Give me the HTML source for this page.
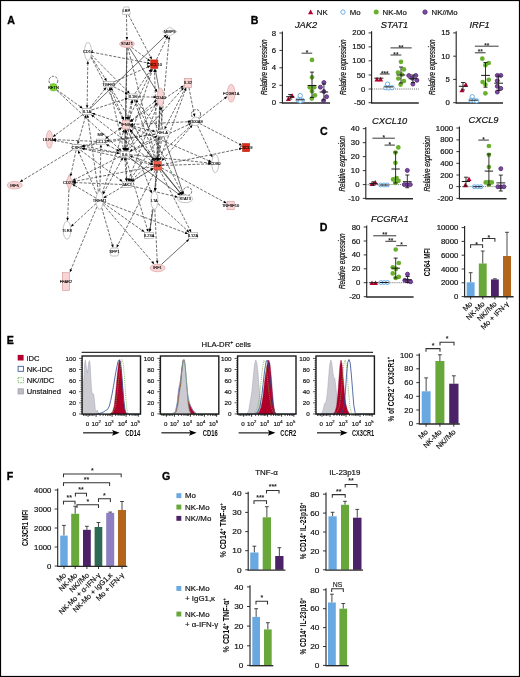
<!DOCTYPE html>
<html lang="en">
<head>
<meta charset="utf-8">
<title>Figure: NK cell and monocyte crosstalk</title>
<style>
html,body{margin:0;padding:0;background:#fff;}
body{width:520px;height:677px;overflow:hidden;}
svg{display:block;font-family:'Liberation Sans', sans-serif;}
</style>
</head>
<body>
<svg width="520" height="677" viewBox="0 0 520 677">
<defs><filter id="soft" x="0" y="0" width="520" height="677" filterUnits="userSpaceOnUse"><feGaussianBlur stdDeviation="0.42"/></filter></defs>
<rect x="0" y="0" width="520" height="677" fill="#ffffff"/>
<g filter="url(#soft)">
<text x="0.00" y="0.00" font-size="11.8" font-weight="bold" fill="#000" transform="translate(250.80 23.50) scale(0.9 1)" stroke="#000" stroke-width="0.35">B</text>
<path d="M310.60 9.40 L313.20 14.21 L308.00 14.21 Z" fill="#b4002d" stroke="none" stroke-width="1"/>
<text x="316.80" y="14.60" font-size="7.8" fill="#0c0c0c" stroke="#0c0c0c" stroke-width="0.16">NK</text>
<circle cx="343.00" cy="12.10" r="2.2" fill="#fff" stroke="#5fa5e0" stroke-width="0.9"/>
<text x="349.80" y="14.60" font-size="7.8" fill="#0c0c0c" stroke="#0c0c0c" stroke-width="0.16">Mo</text>
<circle cx="376.20" cy="12.10" r="2.5" fill="#6aaf2d" stroke="none" stroke-width="1"/>
<text x="382.60" y="14.60" font-size="7.8" fill="#0c0c0c" stroke="#0c0c0c" stroke-width="0.16">NK-Mo</text>
<circle cx="425.00" cy="12.10" r="2.2" fill="#7d4a9c" stroke="#4d2372" stroke-width="0.8"/>
<text x="431.60" y="14.60" font-size="7.8" fill="#0c0c0c" stroke="#0c0c0c" stroke-width="0.16">NK//Mo</text>
<text x="0.00" y="0.00" font-size="8.8" text-anchor="middle" font-style="italic" fill="#0c0c0c" transform="translate(306.00 28.00) scale(1.06 1)" stroke="#0c0c0c" stroke-width="0.16">JAK2</text>
<line x1="282.40" y1="31.40" x2="282.40" y2="103.20" stroke="#1f1f1f" stroke-width="1.1" stroke-linecap="butt"/>
<line x1="279.40" y1="33.00" x2="282.40" y2="33.00" stroke="#1f1f1f" stroke-width="0.9" stroke-linecap="butt"/>
<text x="0.00" y="0.00" font-size="7.2" text-anchor="end" fill="#0c0c0c" transform="translate(276.10 35.56) scale(1.08 1)" stroke="#0c0c0c" stroke-width="0.16">8</text>
<line x1="279.40" y1="50.40" x2="282.40" y2="50.40" stroke="#1f1f1f" stroke-width="0.9" stroke-linecap="butt"/>
<text x="0.00" y="0.00" font-size="7.2" text-anchor="end" fill="#0c0c0c" transform="translate(276.10 52.96) scale(1.08 1)" stroke="#0c0c0c" stroke-width="0.16">6</text>
<line x1="279.40" y1="67.80" x2="282.40" y2="67.80" stroke="#1f1f1f" stroke-width="0.9" stroke-linecap="butt"/>
<text x="0.00" y="0.00" font-size="7.2" text-anchor="end" fill="#0c0c0c" transform="translate(276.10 70.36) scale(1.08 1)" stroke="#0c0c0c" stroke-width="0.16">4</text>
<line x1="279.40" y1="85.30" x2="282.40" y2="85.30" stroke="#1f1f1f" stroke-width="0.9" stroke-linecap="butt"/>
<text x="0.00" y="0.00" font-size="7.2" text-anchor="end" fill="#0c0c0c" transform="translate(276.10 87.86) scale(1.08 1)" stroke="#0c0c0c" stroke-width="0.16">2</text>
<line x1="279.40" y1="102.70" x2="282.40" y2="102.70" stroke="#1f1f1f" stroke-width="0.9" stroke-linecap="butt"/>
<text x="0.00" y="0.00" font-size="7.2" text-anchor="end" fill="#0c0c0c" transform="translate(276.10 105.26) scale(1.08 1)" stroke="#0c0c0c" stroke-width="0.16">0</text>
<line x1="281.85" y1="103.00" x2="330.00" y2="103.00" stroke="#2a2a2a" stroke-width="1.35" stroke-linecap="butt"/>
<text x="0.00" y="0.00" font-size="8.3" text-anchor="middle" font-style="italic" fill="#0c0c0c" transform="translate(267.00 67.20) rotate(-90) scale(0.77 1)" stroke="#0c0c0c" stroke-width="0.22">Relative expression</text>
<path d="M288.40 96.30 L290.90 100.92 L285.90 100.92 Z" fill="#b4002d" stroke="none" stroke-width="1"/>
<path d="M292.20 93.30 L294.70 97.92 L289.70 97.92 Z" fill="#b4002d" stroke="none" stroke-width="1"/>
<line x1="290.20" y1="94.50" x2="290.20" y2="99.00" stroke="#1c1c1c" stroke-width="0.9" stroke-linecap="butt"/>
<line x1="288.20" y1="94.50" x2="292.20" y2="94.50" stroke="#1c1c1c" stroke-width="0.9" stroke-linecap="butt"/>
<line x1="288.20" y1="99.00" x2="292.20" y2="99.00" stroke="#1c1c1c" stroke-width="0.9" stroke-linecap="butt"/>
<line x1="286.20" y1="96.70" x2="294.20" y2="96.70" stroke="#1c1c1c" stroke-width="1.0" stroke-linecap="butt"/>
<circle cx="300.20" cy="95.60" r="2.15" fill="#fff" stroke="#5fa5e0" stroke-width="0.9"/>
<circle cx="298.00" cy="100.00" r="2.15" fill="#fff" stroke="#5fa5e0" stroke-width="0.9"/>
<circle cx="302.30" cy="100.30" r="2.15" fill="#fff" stroke="#5fa5e0" stroke-width="0.9"/>
<circle cx="300.20" cy="101.00" r="2.15" fill="#fff" stroke="#5fa5e0" stroke-width="0.9"/>
<line x1="296.00" y1="99.80" x2="304.40" y2="99.80" stroke="#1c1c1c" stroke-width="1.0" stroke-linecap="butt"/>
<circle cx="312.00" cy="59.90" r="2.35" fill="#6aaf2d" stroke="none" stroke-width="1"/>
<circle cx="312.00" cy="77.30" r="2.35" fill="#6aaf2d" stroke="none" stroke-width="1"/>
<circle cx="309.70" cy="87.20" r="2.35" fill="#6aaf2d" stroke="none" stroke-width="1"/>
<circle cx="314.20" cy="87.20" r="2.35" fill="#6aaf2d" stroke="none" stroke-width="1"/>
<circle cx="312.00" cy="91.20" r="2.35" fill="#6aaf2d" stroke="none" stroke-width="1"/>
<circle cx="314.90" cy="95.30" r="2.35" fill="#6aaf2d" stroke="none" stroke-width="1"/>
<circle cx="311.80" cy="98.60" r="2.35" fill="#6aaf2d" stroke="none" stroke-width="1"/>
<line x1="312.00" y1="72.10" x2="312.00" y2="97.50" stroke="#1c1c1c" stroke-width="0.9" stroke-linecap="butt"/>
<line x1="310.00" y1="72.10" x2="314.00" y2="72.10" stroke="#1c1c1c" stroke-width="0.9" stroke-linecap="butt"/>
<line x1="310.00" y1="97.50" x2="314.00" y2="97.50" stroke="#1c1c1c" stroke-width="0.9" stroke-linecap="butt"/>
<line x1="307.60" y1="85.50" x2="316.40" y2="85.50" stroke="#1c1c1c" stroke-width="1.0" stroke-linecap="butt"/>
<circle cx="323.90" cy="82.50" r="2.0" fill="#7d4a9c" stroke="#4d2372" stroke-width="0.8"/>
<circle cx="320.40" cy="87.20" r="2.0" fill="#7d4a9c" stroke="#4d2372" stroke-width="0.8"/>
<circle cx="323.90" cy="91.50" r="2.0" fill="#7d4a9c" stroke="#4d2372" stroke-width="0.8"/>
<circle cx="326.60" cy="96.70" r="2.0" fill="#7d4a9c" stroke="#4d2372" stroke-width="0.8"/>
<circle cx="323.50" cy="100.70" r="2.0" fill="#7d4a9c" stroke="#4d2372" stroke-width="0.8"/>
<line x1="323.90" y1="84.00" x2="323.90" y2="100.00" stroke="#1c1c1c" stroke-width="0.9" stroke-linecap="butt"/>
<line x1="321.90" y1="84.00" x2="325.90" y2="84.00" stroke="#1c1c1c" stroke-width="0.9" stroke-linecap="butt"/>
<line x1="321.90" y1="100.00" x2="325.90" y2="100.00" stroke="#1c1c1c" stroke-width="0.9" stroke-linecap="butt"/>
<line x1="319.70" y1="92.00" x2="328.10" y2="92.00" stroke="#1c1c1c" stroke-width="1.0" stroke-linecap="butt"/>
<line x1="301.60" y1="53.20" x2="312.20" y2="53.20" stroke="#222" stroke-width="0.9" stroke-linecap="butt"/>
<text x="306.90" y="54.80" font-size="6.5" text-anchor="middle" font-weight="bold" fill="#222">*</text>
<text x="0.00" y="0.00" font-size="8.8" text-anchor="middle" font-style="italic" fill="#0c0c0c" transform="translate(394.50 28.00) scale(1.06 1)" stroke="#0c0c0c" stroke-width="0.16">STAT1</text>
<line x1="371.60" y1="31.30" x2="371.60" y2="103.20" stroke="#1f1f1f" stroke-width="1.1" stroke-linecap="butt"/>
<line x1="368.60" y1="32.90" x2="371.60" y2="32.90" stroke="#1f1f1f" stroke-width="0.9" stroke-linecap="butt"/>
<text x="0.00" y="0.00" font-size="7.2" text-anchor="end" fill="#0c0c0c" transform="translate(365.30 35.46) scale(1.08 1)" stroke="#0c0c0c" stroke-width="0.16">200</text>
<line x1="368.60" y1="46.90" x2="371.60" y2="46.90" stroke="#1f1f1f" stroke-width="0.9" stroke-linecap="butt"/>
<text x="0.00" y="0.00" font-size="7.2" text-anchor="end" fill="#0c0c0c" transform="translate(365.30 49.46) scale(1.08 1)" stroke="#0c0c0c" stroke-width="0.16">150</text>
<line x1="368.60" y1="60.80" x2="371.60" y2="60.80" stroke="#1f1f1f" stroke-width="0.9" stroke-linecap="butt"/>
<text x="0.00" y="0.00" font-size="7.2" text-anchor="end" fill="#0c0c0c" transform="translate(365.30 63.36) scale(1.08 1)" stroke="#0c0c0c" stroke-width="0.16">100</text>
<line x1="368.60" y1="75.00" x2="371.60" y2="75.00" stroke="#1f1f1f" stroke-width="0.9" stroke-linecap="butt"/>
<text x="0.00" y="0.00" font-size="7.2" text-anchor="end" fill="#0c0c0c" transform="translate(365.30 77.56) scale(1.08 1)" stroke="#0c0c0c" stroke-width="0.16">50</text>
<line x1="368.60" y1="89.00" x2="371.60" y2="89.00" stroke="#1f1f1f" stroke-width="0.9" stroke-linecap="butt"/>
<text x="0.00" y="0.00" font-size="7.2" text-anchor="end" fill="#0c0c0c" transform="translate(365.30 91.56) scale(1.08 1)" stroke="#0c0c0c" stroke-width="0.16">0</text>
<line x1="368.60" y1="102.70" x2="371.60" y2="102.70" stroke="#1f1f1f" stroke-width="0.9" stroke-linecap="butt"/>
<text x="0.00" y="0.00" font-size="7.2" text-anchor="end" fill="#0c0c0c" transform="translate(365.30 105.26) scale(1.08 1)" stroke="#0c0c0c" stroke-width="0.16">-50</text>
<line x1="371.05" y1="103.00" x2="418.80" y2="103.00" stroke="#2a2a2a" stroke-width="1.35" stroke-linecap="butt"/>
<text x="0.00" y="0.00" font-size="8.3" text-anchor="middle" font-style="italic" fill="#0c0c0c" transform="translate(346.00 67.20) rotate(-90) scale(0.77 1)" stroke="#0c0c0c" stroke-width="0.22">Relative expression</text>
<line x1="372.00" y1="89.00" x2="419.00" y2="89.00" stroke="#555" stroke-width="0.9" stroke-dasharray="1 1.1" stroke-linecap="butt"/>
<path d="M377.00 76.80 L379.50 81.42 L374.50 81.42 Z" fill="#b4002d" stroke="none" stroke-width="1"/>
<path d="M380.60 76.80 L383.10 81.42 L378.10 81.42 Z" fill="#b4002d" stroke="none" stroke-width="1"/>
<line x1="374.30" y1="78.20" x2="383.30" y2="78.20" stroke="#1c1c1c" stroke-width="1.0" stroke-linecap="butt"/>
<circle cx="387.60" cy="84.10" r="2.15" fill="#fff" stroke="#5fa5e0" stroke-width="0.9"/>
<circle cx="385.70" cy="87.70" r="2.15" fill="#fff" stroke="#5fa5e0" stroke-width="0.9"/>
<circle cx="388.80" cy="87.90" r="2.15" fill="#fff" stroke="#5fa5e0" stroke-width="0.9"/>
<circle cx="392.00" cy="87.70" r="2.15" fill="#fff" stroke="#5fa5e0" stroke-width="0.9"/>
<line x1="384.30" y1="86.90" x2="393.30" y2="86.90" stroke="#1c1c1c" stroke-width="1.0" stroke-linecap="butt"/>
<circle cx="401.00" cy="61.80" r="2.35" fill="#6aaf2d" stroke="none" stroke-width="1"/>
<circle cx="403.90" cy="69.40" r="2.35" fill="#6aaf2d" stroke="none" stroke-width="1"/>
<circle cx="398.00" cy="72.50" r="2.35" fill="#6aaf2d" stroke="none" stroke-width="1"/>
<circle cx="401.80" cy="74.60" r="2.35" fill="#6aaf2d" stroke="none" stroke-width="1"/>
<circle cx="398.30" cy="78.50" r="2.35" fill="#6aaf2d" stroke="none" stroke-width="1"/>
<circle cx="403.90" cy="81.10" r="2.35" fill="#6aaf2d" stroke="none" stroke-width="1"/>
<circle cx="400.60" cy="84.60" r="2.35" fill="#6aaf2d" stroke="none" stroke-width="1"/>
<line x1="401.00" y1="67.00" x2="401.00" y2="83.00" stroke="#1c1c1c" stroke-width="0.9" stroke-linecap="butt"/>
<line x1="399.00" y1="67.00" x2="403.00" y2="67.00" stroke="#1c1c1c" stroke-width="0.9" stroke-linecap="butt"/>
<line x1="399.00" y1="83.00" x2="403.00" y2="83.00" stroke="#1c1c1c" stroke-width="0.9" stroke-linecap="butt"/>
<line x1="396.60" y1="75.00" x2="405.40" y2="75.00" stroke="#1c1c1c" stroke-width="1.0" stroke-linecap="butt"/>
<circle cx="408.80" cy="75.50" r="2.0" fill="#7d4a9c" stroke="#4d2372" stroke-width="0.8"/>
<circle cx="415.80" cy="75.50" r="2.0" fill="#7d4a9c" stroke="#4d2372" stroke-width="0.8"/>
<circle cx="412.30" cy="78.20" r="2.0" fill="#7d4a9c" stroke="#4d2372" stroke-width="0.8"/>
<circle cx="416.90" cy="80.30" r="2.0" fill="#7d4a9c" stroke="#4d2372" stroke-width="0.8"/>
<circle cx="412.90" cy="84.10" r="2.0" fill="#7d4a9c" stroke="#4d2372" stroke-width="0.8"/>
<line x1="413.00" y1="75.00" x2="413.00" y2="82.50" stroke="#1c1c1c" stroke-width="0.9" stroke-linecap="butt"/>
<line x1="411.00" y1="75.00" x2="415.00" y2="75.00" stroke="#1c1c1c" stroke-width="0.9" stroke-linecap="butt"/>
<line x1="411.00" y1="82.50" x2="415.00" y2="82.50" stroke="#1c1c1c" stroke-width="0.9" stroke-linecap="butt"/>
<line x1="408.60" y1="78.70" x2="417.40" y2="78.70" stroke="#1c1c1c" stroke-width="1.0" stroke-linecap="butt"/>
<line x1="379.80" y1="74.00" x2="389.70" y2="74.00" stroke="#222" stroke-width="0.9" stroke-linecap="butt"/>
<text x="384.75" y="75.60" font-size="6.5" text-anchor="middle" font-weight="bold" fill="#222">***</text>
<line x1="390.50" y1="55.00" x2="401.30" y2="55.00" stroke="#222" stroke-width="0.9" stroke-linecap="butt"/>
<text x="395.90" y="56.60" font-size="6.5" text-anchor="middle" font-weight="bold" fill="#222">**</text>
<line x1="390.50" y1="47.90" x2="411.70" y2="47.90" stroke="#222" stroke-width="0.9" stroke-linecap="butt"/>
<text x="401.10" y="49.50" font-size="6.5" text-anchor="middle" font-weight="bold" fill="#222">**</text>
<text x="0.00" y="0.00" font-size="8.8" text-anchor="middle" font-style="italic" fill="#0c0c0c" transform="translate(479.50 28.00) scale(1.06 1)" stroke="#0c0c0c" stroke-width="0.16">IRF1</text>
<line x1="456.20" y1="31.30" x2="456.20" y2="103.20" stroke="#1f1f1f" stroke-width="1.1" stroke-linecap="butt"/>
<line x1="453.20" y1="32.90" x2="456.20" y2="32.90" stroke="#1f1f1f" stroke-width="0.9" stroke-linecap="butt"/>
<text x="0.00" y="0.00" font-size="7.2" text-anchor="end" fill="#0c0c0c" transform="translate(449.90 35.46) scale(1.08 1)" stroke="#0c0c0c" stroke-width="0.16">15</text>
<line x1="453.20" y1="56.20" x2="456.20" y2="56.20" stroke="#1f1f1f" stroke-width="0.9" stroke-linecap="butt"/>
<text x="0.00" y="0.00" font-size="7.2" text-anchor="end" fill="#0c0c0c" transform="translate(449.90 58.76) scale(1.08 1)" stroke="#0c0c0c" stroke-width="0.16">10</text>
<line x1="453.20" y1="79.40" x2="456.20" y2="79.40" stroke="#1f1f1f" stroke-width="0.9" stroke-linecap="butt"/>
<text x="0.00" y="0.00" font-size="7.2" text-anchor="end" fill="#0c0c0c" transform="translate(449.90 81.96) scale(1.08 1)" stroke="#0c0c0c" stroke-width="0.16">5</text>
<line x1="453.20" y1="102.70" x2="456.20" y2="102.70" stroke="#1f1f1f" stroke-width="0.9" stroke-linecap="butt"/>
<text x="0.00" y="0.00" font-size="7.2" text-anchor="end" fill="#0c0c0c" transform="translate(449.90 105.26) scale(1.08 1)" stroke="#0c0c0c" stroke-width="0.16">0</text>
<line x1="455.65" y1="103.00" x2="503.00" y2="103.00" stroke="#2a2a2a" stroke-width="1.35" stroke-linecap="butt"/>
<text x="0.00" y="0.00" font-size="8.3" text-anchor="middle" font-style="italic" fill="#0c0c0c" transform="translate(435.00 67.20) rotate(-90) scale(0.77 1)" stroke="#0c0c0c" stroke-width="0.22">Relative expression</text>
<path d="M465.80 82.10 L468.30 86.72 L463.30 86.72 Z" fill="#b4002d" stroke="none" stroke-width="1"/>
<path d="M462.00 87.60 L464.50 92.22 L459.50 92.22 Z" fill="#b4002d" stroke="none" stroke-width="1"/>
<line x1="463.00" y1="82.50" x2="463.00" y2="90.00" stroke="#1c1c1c" stroke-width="0.9" stroke-linecap="butt"/>
<line x1="461.00" y1="82.50" x2="465.00" y2="82.50" stroke="#1c1c1c" stroke-width="0.9" stroke-linecap="butt"/>
<line x1="461.00" y1="90.00" x2="465.00" y2="90.00" stroke="#1c1c1c" stroke-width="0.9" stroke-linecap="butt"/>
<line x1="458.80" y1="86.30" x2="467.20" y2="86.30" stroke="#1c1c1c" stroke-width="1.0" stroke-linecap="butt"/>
<circle cx="472.20" cy="96.70" r="2.15" fill="#fff" stroke="#5fa5e0" stroke-width="0.9"/>
<circle cx="471.00" cy="100.30" r="2.15" fill="#fff" stroke="#5fa5e0" stroke-width="0.9"/>
<circle cx="474.00" cy="100.60" r="2.15" fill="#fff" stroke="#5fa5e0" stroke-width="0.9"/>
<circle cx="476.70" cy="100.90" r="2.15" fill="#fff" stroke="#5fa5e0" stroke-width="0.9"/>
<line x1="469.10" y1="100.20" x2="477.90" y2="100.20" stroke="#1c1c1c" stroke-width="1.0" stroke-linecap="butt"/>
<circle cx="482.30" cy="58.70" r="2.35" fill="#6aaf2d" stroke="none" stroke-width="1"/>
<circle cx="488.70" cy="63.00" r="2.35" fill="#6aaf2d" stroke="none" stroke-width="1"/>
<circle cx="485.40" cy="65.20" r="2.35" fill="#6aaf2d" stroke="none" stroke-width="1"/>
<circle cx="488.70" cy="79.80" r="2.35" fill="#6aaf2d" stroke="none" stroke-width="1"/>
<circle cx="482.60" cy="82.00" r="2.35" fill="#6aaf2d" stroke="none" stroke-width="1"/>
<circle cx="485.40" cy="84.60" r="2.35" fill="#6aaf2d" stroke="none" stroke-width="1"/>
<circle cx="485.40" cy="93.30" r="2.35" fill="#6aaf2d" stroke="none" stroke-width="1"/>
<line x1="485.50" y1="62.50" x2="485.50" y2="87.20" stroke="#1c1c1c" stroke-width="0.9" stroke-linecap="butt"/>
<line x1="483.50" y1="62.50" x2="487.50" y2="62.50" stroke="#1c1c1c" stroke-width="0.9" stroke-linecap="butt"/>
<line x1="483.50" y1="87.20" x2="487.50" y2="87.20" stroke="#1c1c1c" stroke-width="0.9" stroke-linecap="butt"/>
<line x1="481.10" y1="75.40" x2="489.90" y2="75.40" stroke="#1c1c1c" stroke-width="1.0" stroke-linecap="butt"/>
<circle cx="497.30" cy="75.40" r="2.0" fill="#7d4a9c" stroke="#4d2372" stroke-width="0.8"/>
<circle cx="500.80" cy="75.40" r="2.0" fill="#7d4a9c" stroke="#4d2372" stroke-width="0.8"/>
<circle cx="497.30" cy="80.80" r="2.0" fill="#7d4a9c" stroke="#4d2372" stroke-width="0.8"/>
<circle cx="497.30" cy="86.30" r="2.0" fill="#7d4a9c" stroke="#4d2372" stroke-width="0.8"/>
<circle cx="500.80" cy="88.40" r="2.0" fill="#7d4a9c" stroke="#4d2372" stroke-width="0.8"/>
<circle cx="497.30" cy="92.00" r="2.0" fill="#7d4a9c" stroke="#4d2372" stroke-width="0.8"/>
<line x1="498.60" y1="76.00" x2="498.60" y2="90.50" stroke="#1c1c1c" stroke-width="0.9" stroke-linecap="butt"/>
<line x1="496.60" y1="76.00" x2="500.60" y2="76.00" stroke="#1c1c1c" stroke-width="0.9" stroke-linecap="butt"/>
<line x1="496.60" y1="90.50" x2="500.60" y2="90.50" stroke="#1c1c1c" stroke-width="0.9" stroke-linecap="butt"/>
<line x1="494.20" y1="83.20" x2="503.00" y2="83.20" stroke="#1c1c1c" stroke-width="1.0" stroke-linecap="butt"/>
<line x1="474.90" y1="52.80" x2="485.60" y2="52.80" stroke="#222" stroke-width="0.9" stroke-linecap="butt"/>
<text x="480.25" y="54.40" font-size="6.5" text-anchor="middle" font-weight="bold" fill="#222">**</text>
<line x1="474.90" y1="46.20" x2="498.60" y2="46.20" stroke="#222" stroke-width="0.9" stroke-linecap="butt"/>
<text x="486.75" y="47.80" font-size="6.5" text-anchor="middle" font-weight="bold" fill="#222">**</text>
<text x="0.00" y="0.00" font-size="11.8" font-weight="bold" fill="#000" transform="translate(319.90 135.30) scale(0.9 1)" stroke="#000" stroke-width="0.35">C</text>
<text x="0.00" y="0.00" font-size="8.8" text-anchor="middle" font-style="italic" fill="#0c0c0c" transform="translate(389.70 123.50) scale(1.06 1)" stroke="#0c0c0c" stroke-width="0.16">CXCL10</text>
<line x1="365.80" y1="127.10" x2="365.80" y2="198.90" stroke="#1f1f1f" stroke-width="1.1" stroke-linecap="butt"/>
<line x1="362.80" y1="128.70" x2="365.80" y2="128.70" stroke="#1f1f1f" stroke-width="0.9" stroke-linecap="butt"/>
<text x="0.00" y="0.00" font-size="7.2" text-anchor="end" fill="#0c0c0c" transform="translate(359.50 131.26) scale(1.08 1)" stroke="#0c0c0c" stroke-width="0.16">40</text>
<line x1="362.80" y1="142.70" x2="365.80" y2="142.70" stroke="#1f1f1f" stroke-width="0.9" stroke-linecap="butt"/>
<text x="0.00" y="0.00" font-size="7.2" text-anchor="end" fill="#0c0c0c" transform="translate(359.50 145.26) scale(1.08 1)" stroke="#0c0c0c" stroke-width="0.16">30</text>
<line x1="362.80" y1="156.60" x2="365.80" y2="156.60" stroke="#1f1f1f" stroke-width="0.9" stroke-linecap="butt"/>
<text x="0.00" y="0.00" font-size="7.2" text-anchor="end" fill="#0c0c0c" transform="translate(359.50 159.16) scale(1.08 1)" stroke="#0c0c0c" stroke-width="0.16">20</text>
<line x1="362.80" y1="170.60" x2="365.80" y2="170.60" stroke="#1f1f1f" stroke-width="0.9" stroke-linecap="butt"/>
<text x="0.00" y="0.00" font-size="7.2" text-anchor="end" fill="#0c0c0c" transform="translate(359.50 173.16) scale(1.08 1)" stroke="#0c0c0c" stroke-width="0.16">10</text>
<line x1="362.80" y1="184.60" x2="365.80" y2="184.60" stroke="#1f1f1f" stroke-width="0.9" stroke-linecap="butt"/>
<text x="0.00" y="0.00" font-size="7.2" text-anchor="end" fill="#0c0c0c" transform="translate(359.50 187.16) scale(1.08 1)" stroke="#0c0c0c" stroke-width="0.16">0</text>
<line x1="362.80" y1="198.40" x2="365.80" y2="198.40" stroke="#1f1f1f" stroke-width="0.9" stroke-linecap="butt"/>
<text x="0.00" y="0.00" font-size="7.2" text-anchor="end" fill="#0c0c0c" transform="translate(359.50 200.96) scale(1.08 1)" stroke="#0c0c0c" stroke-width="0.16">-10</text>
<line x1="365.25" y1="198.70" x2="413.00" y2="198.70" stroke="#2a2a2a" stroke-width="1.35" stroke-linecap="butt"/>
<text x="0.00" y="0.00" font-size="8.3" text-anchor="middle" font-style="italic" fill="#0c0c0c" transform="translate(345.10 163.70) rotate(-90) scale(0.77 1)" stroke="#0c0c0c" stroke-width="0.22">Relative expression</text>
<line x1="366.30" y1="184.60" x2="413.00" y2="184.60" stroke="#555" stroke-width="0.9" stroke-dasharray="1 1.1" stroke-linecap="butt"/>
<path d="M372.00 181.50 L374.50 186.12 L369.50 186.12 Z" fill="#b4002d" stroke="none" stroke-width="1"/>
<path d="M375.30 180.00 L377.80 184.62 L372.80 184.62 Z" fill="#b4002d" stroke="none" stroke-width="1"/>
<circle cx="380.70" cy="185.00" r="2.0" fill="#eaf3fc" stroke="#5fa5e0" stroke-width="0.9"/>
<circle cx="384.00" cy="185.00" r="2.0" fill="#eaf3fc" stroke="#5fa5e0" stroke-width="0.9"/>
<circle cx="387.30" cy="185.00" r="2.0" fill="#eaf3fc" stroke="#5fa5e0" stroke-width="0.9"/>
<line x1="373.50" y1="181.80" x2="373.50" y2="185.20" stroke="#1c1c1c" stroke-width="0.9" stroke-linecap="butt"/>
<line x1="371.50" y1="181.80" x2="375.50" y2="181.80" stroke="#1c1c1c" stroke-width="0.9" stroke-linecap="butt"/>
<line x1="371.50" y1="185.20" x2="375.50" y2="185.20" stroke="#1c1c1c" stroke-width="0.9" stroke-linecap="butt"/>
<line x1="369.30" y1="183.60" x2="377.70" y2="183.60" stroke="#1c1c1c" stroke-width="1.0" stroke-linecap="butt"/>
<line x1="379.70" y1="185.00" x2="388.70" y2="185.00" stroke="#1c1c1c" stroke-width="1.0" stroke-linecap="butt"/>
<circle cx="398.30" cy="147.40" r="2.35" fill="#6aaf2d" stroke="none" stroke-width="1"/>
<circle cx="395.40" cy="152.60" r="2.35" fill="#6aaf2d" stroke="none" stroke-width="1"/>
<circle cx="395.40" cy="162.80" r="2.35" fill="#6aaf2d" stroke="none" stroke-width="1"/>
<circle cx="393.10" cy="179.40" r="2.35" fill="#6aaf2d" stroke="none" stroke-width="1"/>
<circle cx="396.60" cy="178.00" r="2.35" fill="#6aaf2d" stroke="none" stroke-width="1"/>
<circle cx="398.50" cy="180.80" r="2.35" fill="#6aaf2d" stroke="none" stroke-width="1"/>
<circle cx="395.40" cy="182.90" r="2.35" fill="#6aaf2d" stroke="none" stroke-width="1"/>
<line x1="395.60" y1="152.00" x2="395.60" y2="183.00" stroke="#1c1c1c" stroke-width="0.9" stroke-linecap="butt"/>
<line x1="393.60" y1="152.00" x2="397.60" y2="152.00" stroke="#1c1c1c" stroke-width="0.9" stroke-linecap="butt"/>
<line x1="393.60" y1="183.00" x2="397.60" y2="183.00" stroke="#1c1c1c" stroke-width="0.9" stroke-linecap="butt"/>
<line x1="391.40" y1="169.00" x2="399.80" y2="169.00" stroke="#1c1c1c" stroke-width="1.0" stroke-linecap="butt"/>
<circle cx="407.30" cy="170.40" r="2.0" fill="#7d4a9c" stroke="#4d2372" stroke-width="0.8"/>
<circle cx="404.40" cy="184.60" r="2.0" fill="#7d4a9c" stroke="#4d2372" stroke-width="0.8"/>
<circle cx="407.30" cy="184.80" r="2.0" fill="#7d4a9c" stroke="#4d2372" stroke-width="0.8"/>
<circle cx="410.20" cy="184.60" r="2.0" fill="#7d4a9c" stroke="#4d2372" stroke-width="0.8"/>
<line x1="407.30" y1="175.00" x2="407.30" y2="187.70" stroke="#1c1c1c" stroke-width="0.9" stroke-linecap="butt"/>
<line x1="405.30" y1="175.00" x2="409.30" y2="175.00" stroke="#1c1c1c" stroke-width="0.9" stroke-linecap="butt"/>
<line x1="405.30" y1="187.70" x2="409.30" y2="187.70" stroke="#1c1c1c" stroke-width="0.9" stroke-linecap="butt"/>
<line x1="402.90" y1="181.70" x2="411.70" y2="181.70" stroke="#1c1c1c" stroke-width="1.0" stroke-linecap="butt"/>
<line x1="372.40" y1="138.20" x2="394.90" y2="138.20" stroke="#222" stroke-width="0.9" stroke-linecap="butt"/>
<text x="383.65" y="139.80" font-size="6.5" text-anchor="middle" font-weight="bold" fill="#222">*</text>
<line x1="384.50" y1="145.10" x2="394.90" y2="145.10" stroke="#222" stroke-width="0.9" stroke-linecap="butt"/>
<text x="389.70" y="146.70" font-size="6.5" text-anchor="middle" font-weight="bold" fill="#222">*</text>
<text x="0.00" y="0.00" font-size="8.8" text-anchor="middle" font-style="italic" fill="#0c0c0c" transform="translate(483.50 123.00) scale(1.06 1)" stroke="#0c0c0c" stroke-width="0.16">CXCL9</text>
<line x1="459.40" y1="126.40" x2="459.40" y2="198.90" stroke="#1f1f1f" stroke-width="1.1" stroke-linecap="butt"/>
<line x1="456.40" y1="128.00" x2="459.40" y2="128.00" stroke="#1f1f1f" stroke-width="0.9" stroke-linecap="butt"/>
<text x="0.00" y="0.00" font-size="7.2" text-anchor="end" fill="#0c0c0c" transform="translate(453.10 130.56) scale(1.08 1)" stroke="#0c0c0c" stroke-width="0.16">1000</text>
<line x1="456.40" y1="139.90" x2="459.40" y2="139.90" stroke="#1f1f1f" stroke-width="0.9" stroke-linecap="butt"/>
<text x="0.00" y="0.00" font-size="7.2" text-anchor="end" fill="#0c0c0c" transform="translate(453.10 142.46) scale(1.08 1)" stroke="#0c0c0c" stroke-width="0.16">800</text>
<line x1="456.40" y1="151.60" x2="459.40" y2="151.60" stroke="#1f1f1f" stroke-width="0.9" stroke-linecap="butt"/>
<text x="0.00" y="0.00" font-size="7.2" text-anchor="end" fill="#0c0c0c" transform="translate(453.10 154.16) scale(1.08 1)" stroke="#0c0c0c" stroke-width="0.16">600</text>
<line x1="456.40" y1="163.30" x2="459.40" y2="163.30" stroke="#1f1f1f" stroke-width="0.9" stroke-linecap="butt"/>
<text x="0.00" y="0.00" font-size="7.2" text-anchor="end" fill="#0c0c0c" transform="translate(453.10 165.86) scale(1.08 1)" stroke="#0c0c0c" stroke-width="0.16">400</text>
<line x1="456.40" y1="175.00" x2="459.40" y2="175.00" stroke="#1f1f1f" stroke-width="0.9" stroke-linecap="butt"/>
<text x="0.00" y="0.00" font-size="7.2" text-anchor="end" fill="#0c0c0c" transform="translate(453.10 177.56) scale(1.08 1)" stroke="#0c0c0c" stroke-width="0.16">200</text>
<line x1="456.40" y1="186.60" x2="459.40" y2="186.60" stroke="#1f1f1f" stroke-width="0.9" stroke-linecap="butt"/>
<text x="0.00" y="0.00" font-size="7.2" text-anchor="end" fill="#0c0c0c" transform="translate(453.10 189.16) scale(1.08 1)" stroke="#0c0c0c" stroke-width="0.16">0</text>
<line x1="456.40" y1="198.40" x2="459.40" y2="198.40" stroke="#1f1f1f" stroke-width="0.9" stroke-linecap="butt"/>
<text x="0.00" y="0.00" font-size="7.2" text-anchor="end" fill="#0c0c0c" transform="translate(453.10 200.96) scale(1.08 1)" stroke="#0c0c0c" stroke-width="0.16">-200</text>
<line x1="458.85" y1="198.70" x2="506.60" y2="198.70" stroke="#2a2a2a" stroke-width="1.35" stroke-linecap="butt"/>
<text x="0.00" y="0.00" font-size="8.3" text-anchor="middle" font-style="italic" fill="#0c0c0c" transform="translate(429.90 163.70) rotate(-90) scale(0.77 1)" stroke="#0c0c0c" stroke-width="0.22">Relative expression</text>
<line x1="460.00" y1="186.60" x2="506.60" y2="186.60" stroke="#555" stroke-width="0.9" stroke-dasharray="1 1.1" stroke-linecap="butt"/>
<path d="M469.00 176.50 L471.50 181.12 L466.50 181.12 Z" fill="#b4002d" stroke="none" stroke-width="1"/>
<path d="M465.30 182.60 L467.80 187.22 L462.80 187.22 Z" fill="#b4002d" stroke="none" stroke-width="1"/>
<circle cx="474.30" cy="186.70" r="2.0" fill="#eaf3fc" stroke="#5fa5e0" stroke-width="0.9"/>
<circle cx="477.60" cy="186.70" r="2.0" fill="#eaf3fc" stroke="#5fa5e0" stroke-width="0.9"/>
<circle cx="480.90" cy="186.70" r="2.0" fill="#eaf3fc" stroke="#5fa5e0" stroke-width="0.9"/>
<line x1="466.00" y1="177.20" x2="466.00" y2="186.00" stroke="#1c1c1c" stroke-width="0.9" stroke-linecap="butt"/>
<line x1="464.00" y1="177.20" x2="468.00" y2="177.20" stroke="#1c1c1c" stroke-width="0.9" stroke-linecap="butt"/>
<line x1="464.00" y1="186.00" x2="468.00" y2="186.00" stroke="#1c1c1c" stroke-width="0.9" stroke-linecap="butt"/>
<line x1="461.80" y1="181.50" x2="470.20" y2="181.50" stroke="#1c1c1c" stroke-width="1.0" stroke-linecap="butt"/>
<line x1="473.10" y1="186.70" x2="482.10" y2="186.70" stroke="#1c1c1c" stroke-width="1.0" stroke-linecap="butt"/>
<circle cx="488.90" cy="146.00" r="2.35" fill="#6aaf2d" stroke="none" stroke-width="1"/>
<circle cx="488.90" cy="154.80" r="2.35" fill="#6aaf2d" stroke="none" stroke-width="1"/>
<circle cx="488.90" cy="167.00" r="2.35" fill="#6aaf2d" stroke="none" stroke-width="1"/>
<circle cx="485.70" cy="182.40" r="2.35" fill="#6aaf2d" stroke="none" stroke-width="1"/>
<circle cx="488.90" cy="182.00" r="2.35" fill="#6aaf2d" stroke="none" stroke-width="1"/>
<circle cx="491.80" cy="182.40" r="2.35" fill="#6aaf2d" stroke="none" stroke-width="1"/>
<circle cx="488.90" cy="184.60" r="2.35" fill="#6aaf2d" stroke="none" stroke-width="1"/>
<line x1="488.90" y1="154.00" x2="488.90" y2="185.00" stroke="#1c1c1c" stroke-width="0.9" stroke-linecap="butt"/>
<line x1="486.90" y1="154.00" x2="490.90" y2="154.00" stroke="#1c1c1c" stroke-width="0.9" stroke-linecap="butt"/>
<line x1="486.90" y1="185.00" x2="490.90" y2="185.00" stroke="#1c1c1c" stroke-width="0.9" stroke-linecap="butt"/>
<line x1="484.70" y1="171.10" x2="493.10" y2="171.10" stroke="#1c1c1c" stroke-width="1.0" stroke-linecap="butt"/>
<circle cx="500.80" cy="168.70" r="2.0" fill="#7d4a9c" stroke="#4d2372" stroke-width="0.8"/>
<circle cx="497.90" cy="186.70" r="2.0" fill="#7d4a9c" stroke="#4d2372" stroke-width="0.8"/>
<circle cx="500.80" cy="186.90" r="2.0" fill="#7d4a9c" stroke="#4d2372" stroke-width="0.8"/>
<circle cx="503.90" cy="186.70" r="2.0" fill="#7d4a9c" stroke="#4d2372" stroke-width="0.8"/>
<line x1="500.80" y1="175.10" x2="500.80" y2="191.00" stroke="#1c1c1c" stroke-width="0.9" stroke-linecap="butt"/>
<line x1="498.80" y1="175.10" x2="502.80" y2="175.10" stroke="#1c1c1c" stroke-width="0.9" stroke-linecap="butt"/>
<line x1="498.80" y1="191.00" x2="502.80" y2="191.00" stroke="#1c1c1c" stroke-width="0.9" stroke-linecap="butt"/>
<line x1="496.40" y1="182.90" x2="505.20" y2="182.90" stroke="#1c1c1c" stroke-width="1.0" stroke-linecap="butt"/>
<line x1="478.30" y1="140.10" x2="488.90" y2="140.10" stroke="#222" stroke-width="0.9" stroke-linecap="butt"/>
<text x="483.60" y="141.70" font-size="6.5" text-anchor="middle" font-weight="bold" fill="#222">*</text>
<text x="0.00" y="0.00" font-size="11.8" font-weight="bold" fill="#000" transform="translate(319.70 231.00) scale(0.9 1)" stroke="#000" stroke-width="0.35">D</text>
<text x="0.00" y="0.00" font-size="8.8" text-anchor="middle" font-style="italic" fill="#0c0c0c" transform="translate(389.80 221.80) scale(1.06 1)" stroke="#0c0c0c" stroke-width="0.16">FCGRA1</text>
<line x1="366.70" y1="225.40" x2="366.70" y2="297.20" stroke="#1f1f1f" stroke-width="1.1" stroke-linecap="butt"/>
<line x1="363.70" y1="227.00" x2="366.70" y2="227.00" stroke="#1f1f1f" stroke-width="0.9" stroke-linecap="butt"/>
<text x="0.00" y="0.00" font-size="7.2" text-anchor="end" fill="#0c0c0c" transform="translate(360.40 229.56) scale(1.08 1)" stroke="#0c0c0c" stroke-width="0.16">80</text>
<line x1="363.70" y1="241.00" x2="366.70" y2="241.00" stroke="#1f1f1f" stroke-width="0.9" stroke-linecap="butt"/>
<text x="0.00" y="0.00" font-size="7.2" text-anchor="end" fill="#0c0c0c" transform="translate(360.40 243.56) scale(1.08 1)" stroke="#0c0c0c" stroke-width="0.16">60</text>
<line x1="363.70" y1="254.90" x2="366.70" y2="254.90" stroke="#1f1f1f" stroke-width="0.9" stroke-linecap="butt"/>
<text x="0.00" y="0.00" font-size="7.2" text-anchor="end" fill="#0c0c0c" transform="translate(360.40 257.46) scale(1.08 1)" stroke="#0c0c0c" stroke-width="0.16">40</text>
<line x1="363.70" y1="268.80" x2="366.70" y2="268.80" stroke="#1f1f1f" stroke-width="0.9" stroke-linecap="butt"/>
<text x="0.00" y="0.00" font-size="7.2" text-anchor="end" fill="#0c0c0c" transform="translate(360.40 271.36) scale(1.08 1)" stroke="#0c0c0c" stroke-width="0.16">20</text>
<line x1="363.70" y1="282.70" x2="366.70" y2="282.70" stroke="#1f1f1f" stroke-width="0.9" stroke-linecap="butt"/>
<text x="0.00" y="0.00" font-size="7.2" text-anchor="end" fill="#0c0c0c" transform="translate(360.40 285.26) scale(1.08 1)" stroke="#0c0c0c" stroke-width="0.16">0</text>
<line x1="363.70" y1="296.70" x2="366.70" y2="296.70" stroke="#1f1f1f" stroke-width="0.9" stroke-linecap="butt"/>
<text x="0.00" y="0.00" font-size="7.2" text-anchor="end" fill="#0c0c0c" transform="translate(360.40 299.26) scale(1.08 1)" stroke="#0c0c0c" stroke-width="0.16">-20</text>
<line x1="366.15" y1="297.00" x2="413.60" y2="297.00" stroke="#2a2a2a" stroke-width="1.35" stroke-linecap="butt"/>
<text x="0.00" y="0.00" font-size="8.3" text-anchor="middle" font-style="italic" fill="#0c0c0c" transform="translate(345.30 261.20) rotate(-90) scale(0.77 1)" stroke="#0c0c0c" stroke-width="0.22">Relative expression</text>
<line x1="367.20" y1="282.70" x2="413.60" y2="282.70" stroke="#555" stroke-width="0.9" stroke-dasharray="1 1.1" stroke-linecap="butt"/>
<path d="M372.00 280.50 L374.50 285.12 L369.50 285.12 Z" fill="#b4002d" stroke="none" stroke-width="1"/>
<path d="M375.50 280.50 L378.00 285.12 L373.00 285.12 Z" fill="#b4002d" stroke="none" stroke-width="1"/>
<circle cx="380.90" cy="282.50" r="2.0" fill="#eaf3fc" stroke="#5fa5e0" stroke-width="0.9"/>
<circle cx="384.20" cy="282.50" r="2.0" fill="#eaf3fc" stroke="#5fa5e0" stroke-width="0.9"/>
<circle cx="387.50" cy="282.50" r="2.0" fill="#eaf3fc" stroke="#5fa5e0" stroke-width="0.9"/>
<line x1="369.40" y1="282.70" x2="378.20" y2="282.70" stroke="#1c1c1c" stroke-width="1.0" stroke-linecap="butt"/>
<line x1="379.70" y1="282.50" x2="388.70" y2="282.50" stroke="#1c1c1c" stroke-width="1.0" stroke-linecap="butt"/>
<circle cx="395.70" cy="249.50" r="2.35" fill="#6aaf2d" stroke="none" stroke-width="1"/>
<circle cx="398.80" cy="263.00" r="2.35" fill="#6aaf2d" stroke="none" stroke-width="1"/>
<circle cx="392.80" cy="267.30" r="2.35" fill="#6aaf2d" stroke="none" stroke-width="1"/>
<circle cx="395.90" cy="268.90" r="2.35" fill="#6aaf2d" stroke="none" stroke-width="1"/>
<circle cx="392.80" cy="273.40" r="2.35" fill="#6aaf2d" stroke="none" stroke-width="1"/>
<circle cx="398.80" cy="276.80" r="2.35" fill="#6aaf2d" stroke="none" stroke-width="1"/>
<circle cx="395.70" cy="278.00" r="2.35" fill="#6aaf2d" stroke="none" stroke-width="1"/>
<line x1="395.70" y1="258.10" x2="395.70" y2="278.00" stroke="#1c1c1c" stroke-width="0.9" stroke-linecap="butt"/>
<line x1="393.70" y1="258.10" x2="397.70" y2="258.10" stroke="#1c1c1c" stroke-width="0.9" stroke-linecap="butt"/>
<line x1="393.70" y1="278.00" x2="397.70" y2="278.00" stroke="#1c1c1c" stroke-width="0.9" stroke-linecap="butt"/>
<line x1="391.50" y1="268.20" x2="399.90" y2="268.20" stroke="#1c1c1c" stroke-width="1.0" stroke-linecap="butt"/>
<circle cx="407.50" cy="274.20" r="2.0" fill="#7d4a9c" stroke="#4d2372" stroke-width="0.8"/>
<circle cx="404.90" cy="280.30" r="2.0" fill="#7d4a9c" stroke="#4d2372" stroke-width="0.8"/>
<circle cx="407.80" cy="281.10" r="2.0" fill="#7d4a9c" stroke="#4d2372" stroke-width="0.8"/>
<circle cx="410.60" cy="281.70" r="2.0" fill="#7d4a9c" stroke="#4d2372" stroke-width="0.8"/>
<line x1="407.60" y1="276.50" x2="407.60" y2="282.50" stroke="#1c1c1c" stroke-width="0.9" stroke-linecap="butt"/>
<line x1="405.60" y1="276.50" x2="409.60" y2="276.50" stroke="#1c1c1c" stroke-width="0.9" stroke-linecap="butt"/>
<line x1="405.60" y1="282.50" x2="409.60" y2="282.50" stroke="#1c1c1c" stroke-width="0.9" stroke-linecap="butt"/>
<line x1="403.40" y1="279.80" x2="411.80" y2="279.80" stroke="#1c1c1c" stroke-width="1.0" stroke-linecap="butt"/>
<line x1="373.20" y1="235.80" x2="396.20" y2="235.80" stroke="#222" stroke-width="0.9" stroke-linecap="butt"/>
<text x="384.70" y="237.40" font-size="6.5" text-anchor="middle" font-weight="bold" fill="#222">**</text>
<line x1="385.30" y1="241.30" x2="396.20" y2="241.30" stroke="#222" stroke-width="0.9" stroke-linecap="butt"/>
<text x="390.75" y="242.90" font-size="6.5" text-anchor="middle" font-weight="bold" fill="#222">**</text>
<line x1="396.20" y1="245.70" x2="407.00" y2="245.70" stroke="#222" stroke-width="0.9" stroke-linecap="butt"/>
<text x="401.60" y="247.30" font-size="6.5" text-anchor="middle" font-weight="bold" fill="#222">*</text>
<line x1="464.60" y1="226.00" x2="464.60" y2="297.10" stroke="#1f1f1f" stroke-width="1.1" stroke-linecap="butt"/>
<line x1="461.60" y1="227.60" x2="464.60" y2="227.60" stroke="#1f1f1f" stroke-width="0.9" stroke-linecap="butt"/>
<text x="0.00" y="0.00" font-size="7.2" text-anchor="end" fill="#0c0c0c" transform="translate(458.30 230.16) scale(1.08 1)" stroke="#0c0c0c" stroke-width="0.16">10000</text>
<line x1="461.60" y1="241.40" x2="464.60" y2="241.40" stroke="#1f1f1f" stroke-width="0.9" stroke-linecap="butt"/>
<text x="0.00" y="0.00" font-size="7.2" text-anchor="end" fill="#0c0c0c" transform="translate(458.30 243.96) scale(1.08 1)" stroke="#0c0c0c" stroke-width="0.16">8000</text>
<line x1="461.60" y1="255.20" x2="464.60" y2="255.20" stroke="#1f1f1f" stroke-width="0.9" stroke-linecap="butt"/>
<text x="0.00" y="0.00" font-size="7.2" text-anchor="end" fill="#0c0c0c" transform="translate(458.30 257.76) scale(1.08 1)" stroke="#0c0c0c" stroke-width="0.16">6000</text>
<line x1="461.60" y1="269.00" x2="464.60" y2="269.00" stroke="#1f1f1f" stroke-width="0.9" stroke-linecap="butt"/>
<text x="0.00" y="0.00" font-size="7.2" text-anchor="end" fill="#0c0c0c" transform="translate(458.30 271.56) scale(1.08 1)" stroke="#0c0c0c" stroke-width="0.16">4000</text>
<line x1="461.60" y1="282.80" x2="464.60" y2="282.80" stroke="#1f1f1f" stroke-width="0.9" stroke-linecap="butt"/>
<text x="0.00" y="0.00" font-size="7.2" text-anchor="end" fill="#0c0c0c" transform="translate(458.30 285.36) scale(1.08 1)" stroke="#0c0c0c" stroke-width="0.16">2000</text>
<line x1="461.60" y1="296.60" x2="464.60" y2="296.60" stroke="#1f1f1f" stroke-width="0.9" stroke-linecap="butt"/>
<text x="0.00" y="0.00" font-size="7.2" text-anchor="end" fill="#0c0c0c" transform="translate(458.30 299.16) scale(1.08 1)" stroke="#0c0c0c" stroke-width="0.16">0</text>
<line x1="470.65" y1="272.70" x2="470.65" y2="282.30" stroke="#333" stroke-width="0.9" stroke-linecap="butt"/>
<line x1="468.75" y1="272.70" x2="472.55" y2="272.70" stroke="#333" stroke-width="0.9" stroke-linecap="butt"/>
<rect x="466.70" y="282.30" width="7.90" height="14.00" fill="#69a8e0" stroke="none" stroke-width="1"/>
<line x1="482.75" y1="251.00" x2="482.75" y2="263.50" stroke="#333" stroke-width="0.9" stroke-linecap="butt"/>
<line x1="480.85" y1="251.00" x2="484.65" y2="251.00" stroke="#333" stroke-width="0.9" stroke-linecap="butt"/>
<rect x="478.80" y="263.50" width="7.90" height="32.80" fill="#68a83a" stroke="none" stroke-width="1"/>
<line x1="494.90" y1="278.80" x2="494.90" y2="279.40" stroke="#333" stroke-width="0.9" stroke-linecap="butt"/>
<line x1="493.00" y1="278.80" x2="496.80" y2="278.80" stroke="#333" stroke-width="0.9" stroke-linecap="butt"/>
<rect x="491.00" y="279.40" width="7.80" height="16.90" fill="#4c2167" stroke="none" stroke-width="1"/>
<line x1="507.00" y1="232.30" x2="507.00" y2="256.00" stroke="#333" stroke-width="0.9" stroke-linecap="butt"/>
<line x1="505.10" y1="232.30" x2="508.90" y2="232.30" stroke="#333" stroke-width="0.9" stroke-linecap="butt"/>
<rect x="503.00" y="256.00" width="8.00" height="40.30" fill="#b3651e" stroke="none" stroke-width="1"/>
<line x1="464.05" y1="296.70" x2="513.60" y2="296.70" stroke="#2a2a2a" stroke-width="1.35" stroke-linecap="butt"/>
<line x1="470.60" y1="296.30" x2="470.60" y2="299.30" stroke="#1f1f1f" stroke-width="0.9" stroke-linecap="butt"/>
<line x1="482.80" y1="296.30" x2="482.80" y2="299.30" stroke="#1f1f1f" stroke-width="0.9" stroke-linecap="butt"/>
<line x1="494.90" y1="296.30" x2="494.90" y2="299.30" stroke="#1f1f1f" stroke-width="0.9" stroke-linecap="butt"/>
<line x1="507.00" y1="296.30" x2="507.00" y2="299.30" stroke="#1f1f1f" stroke-width="0.9" stroke-linecap="butt"/>
<text x="0.00" y="0.00" font-size="8.8" text-anchor="middle" font-weight="bold" fill="#0c0c0c" transform="translate(429.80 262.20) rotate(-90) scale(0.7 1)">CD64 MFI</text>
<path d="M470.60 248.00 L470.60 244.80 L482.60 244.80 L482.60 248.00" fill="none" stroke="#333" stroke-width="1.05"/>
<text x="476.60" y="246.70" font-size="7.0" text-anchor="middle" font-weight="bold" fill="#222">*</text>
<path d="M482.60 241.70 L482.60 238.50 L494.90 238.50 L494.90 241.70" fill="none" stroke="#333" stroke-width="1.05"/>
<text x="488.75" y="240.40" font-size="7.0" text-anchor="middle" font-weight="bold" fill="#222">*</text>
<text x="0.00" y="0.00" font-size="7.3" text-anchor="end" fill="#0c0c0c" transform="translate(472.90 304.40) rotate(-45)" stroke="#0c0c0c" stroke-width="0.16">Mo</text>
<text x="0.00" y="0.00" font-size="7.3" text-anchor="end" fill="#0c0c0c" transform="translate(485.10 304.40) rotate(-45)" stroke="#0c0c0c" stroke-width="0.16">NK-Mo</text>
<text x="0.00" y="0.00" font-size="7.3" text-anchor="end" fill="#0c0c0c" transform="translate(497.20 304.40) rotate(-45)" stroke="#0c0c0c" stroke-width="0.16">NK//Mo</text>
<text x="0.00" y="0.00" font-size="7.3" text-anchor="end" fill="#0c0c0c" transform="translate(509.30 304.40) rotate(-45)" stroke="#0c0c0c" stroke-width="0.16">Mo + IFN-γ</text>
<text x="0.00" y="0.00" font-size="11.8" font-weight="bold" fill="#000" transform="translate(6.80 343.80) scale(0.9 1)" stroke="#000" stroke-width="0.35">E</text>
<rect x="17.70" y="354.90" width="5.90" height="5.60" fill="#b4002d" stroke="none" stroke-width="1"/>
<text x="26.80" y="360.50" font-size="7.6" fill="#0c0c0c" stroke="#0c0c0c" stroke-width="0.16">iDC</text>
<rect x="18.10" y="366.30" width="5.30" height="5.00" fill="#fff" stroke="#3b5c9c" stroke-width="0.9"/>
<text x="26.80" y="371.60" font-size="7.6" fill="#0c0c0c" stroke="#0c0c0c" stroke-width="0.16">NK-iDC</text>
<rect x="18.10" y="377.70" width="5.30" height="5.00" fill="#fff" stroke="#6ab04a" stroke-width="0.9" stroke-dasharray="1.4 1"/>
<text x="26.80" y="383.00" font-size="7.6" fill="#0c0c0c" stroke="#0c0c0c" stroke-width="0.16">NK//iDC</text>
<rect x="18.00" y="388.80" width="5.50" height="5.20" fill="#bdbdc4" stroke="#9a9aaa" stroke-width="0.7"/>
<text x="26.80" y="394.30" font-size="7.6" fill="#0c0c0c" stroke="#0c0c0c" stroke-width="0.16">Unstained</text>
<text x="226.20" y="347.40" font-size="7.7" text-anchor="middle" fill="#0c0c0c" stroke="#0c0c0c" stroke-width="0.16">HLA-DR<tspan font-size="5.2" dy="-3">+</tspan><tspan dy="3"> cells</tspan></text>
<line x1="81.60" y1="352.35" x2="373.00" y2="352.35" stroke="#333" stroke-width="1.1" stroke-linecap="butt"/>
<path d="M82.40 413.90 L82.70 397.25 L83.70 380.60 L84.70 362.84 L85.40 360.06 L86.00 365.06 L86.70 369.50 L87.30 372.83 L87.90 369.50 L88.70 362.28 L89.50 360.62 L90.10 363.95 L90.70 375.05 L91.50 388.92 L92.10 393.36 L93.60 393.92 L94.40 400.02 L95.30 409.46 L96.50 411.68 L97.30 410.01 L98.10 412.23 L99.60 413.90 Z" fill="#cbcbd1" stroke="#a3a3b8" stroke-width="0.5"/>
<path d="M110.10 413.90 L112.60 411.68 L114.30 405.57 L115.70 392.81 L117.30 375.05 L118.70 362.84 L119.70 359.51 L120.70 362.84 L121.90 377.82 L123.30 397.25 L124.50 408.35 L125.70 412.79 L127.10 413.90 Z" fill="#b0002c" stroke="#8c0022" stroke-width="0.4"/>
<path d="M97.10 413.90 L100.10 413.34 L103.10 412.23 L105.60 410.57 L107.60 409.46 L109.30 406.13 L110.70 400.58 L112.10 393.92 L113.70 385.04 L115.30 375.05 L116.90 366.72 L118.10 361.17 L119.10 360.06 L120.30 362.28 L121.50 372.27 L122.70 387.26 L123.90 401.69 L125.10 410.57 L126.60 413.90 L140.10 413.90" fill="none" stroke="#2c4a94" stroke-width="0.8"/>
<path d="M110.10 413.90 L113.10 412.23 L115.30 407.24 L117.10 394.47 L118.90 377.82 L120.50 365.06 L121.90 359.51 L123.10 362.84 L124.30 375.05 L125.50 392.81 L126.50 406.13 L127.50 412.23 L128.60 413.90" fill="none" stroke="#6bb03c" stroke-width="0.8" stroke-dasharray="0.9 1"/>
<path d="M79.10 413.90H82.10M80.60 411.68H82.10M80.60 409.46H82.10M80.60 407.24H82.10M80.60 405.02H82.10M79.10 402.80H82.10M80.60 400.58H82.10M80.60 398.36H82.10M80.60 396.14H82.10M80.60 393.92H82.10M79.10 391.70H82.10M80.60 389.48H82.10M80.60 387.26H82.10M80.60 385.04H82.10M80.60 382.82H82.10M79.10 380.60H82.10M80.60 378.38H82.10M80.60 376.16H82.10M80.60 373.94H82.10M80.60 371.72H82.10M79.10 369.50H82.10M80.60 367.28H82.10M80.60 365.06H82.10M80.60 362.84H82.10M80.60 360.62H82.10M79.10 358.40H82.10" fill="none" stroke="#111" stroke-width="0.7"/>
<text x="0.00" y="0.00" font-size="6.1" text-anchor="end" fill="#0c0c0c" transform="translate(76.00 416.20) scale(1.04 1)" stroke="#0c0c0c" stroke-width="0.16">0</text>
<text x="0.00" y="0.00" font-size="6.1" text-anchor="end" fill="#0c0c0c" transform="translate(76.00 405.10) scale(1.04 1)" stroke="#0c0c0c" stroke-width="0.16">20</text>
<text x="0.00" y="0.00" font-size="6.1" text-anchor="end" fill="#0c0c0c" transform="translate(76.00 394.00) scale(1.04 1)" stroke="#0c0c0c" stroke-width="0.16">40</text>
<text x="0.00" y="0.00" font-size="6.1" text-anchor="end" fill="#0c0c0c" transform="translate(76.00 382.90) scale(1.04 1)" stroke="#0c0c0c" stroke-width="0.16">60</text>
<text x="0.00" y="0.00" font-size="6.1" text-anchor="end" fill="#0c0c0c" transform="translate(76.00 371.80) scale(1.04 1)" stroke="#0c0c0c" stroke-width="0.16">80</text>
<text x="0.00" y="0.00" font-size="6.1" text-anchor="end" fill="#0c0c0c" transform="translate(76.00 360.70) scale(1.04 1)" stroke="#0c0c0c" stroke-width="0.16">100</text>
<path d="M83.60 414.10v1.7M85.10 414.10v1.7M86.60 414.10v1.7M88.10 414.10v2.6M89.60 414.10v1.7M91.10 414.10v1.7M92.60 414.10v1.7M94.10 414.10v1.7M96.10 414.10v2.6M100.10 414.10v1.7M103.10 414.10v1.7M105.60 414.10v1.7M107.60 414.10v1.7M109.10 414.10v1.7M110.30 414.10v1.7M112.10 414.10v2.6M115.60 414.10v1.7M118.10 414.10v1.7M120.10 414.10v1.7M121.70 414.10v1.7M123.10 414.10v1.7M124.30 414.10v1.7M126.10 414.10v2.6M129.60 414.10v1.7M132.10 414.10v1.7M134.10 414.10v1.7M135.70 414.10v1.7M137.10 414.10v1.7M138.30 414.10v2.6" fill="none" stroke="#111" stroke-width="0.9"/>
<rect x="82.10" y="356.00" width="58.40" height="58.10" fill="none" stroke="#1c1c1c" stroke-width="1.4"/>
<text x="87.40" y="425.80" font-size="6.2" text-anchor="middle" fill="#0c0c0c" stroke="#0c0c0c" stroke-width="0.16">0</text>
<text x="96.20" y="425.80" font-size="6.2" text-anchor="middle" fill="#0c0c0c" stroke="#0c0c0c" stroke-width="0.16">10<tspan font-size="4.2" dy="-2.6">2</tspan></text>
<text x="109.10" y="425.80" font-size="6.2" text-anchor="middle" fill="#0c0c0c" stroke="#0c0c0c" stroke-width="0.16">10<tspan font-size="4.2" dy="-2.6">3</tspan></text>
<text x="122.50" y="425.80" font-size="6.2" text-anchor="middle" fill="#0c0c0c" stroke="#0c0c0c" stroke-width="0.16">10<tspan font-size="4.2" dy="-2.6">4</tspan></text>
<text x="135.20" y="425.80" font-size="6.2" text-anchor="middle" fill="#0c0c0c" stroke="#0c0c0c" stroke-width="0.16">10<tspan font-size="4.2" dy="-2.6">5</tspan></text>
<line x1="83.10" y1="432.80" x2="114.60" y2="432.80" stroke="#2a2a2a" stroke-width="1.3" stroke-linecap="butt"/>
<path d="M119.60 432.8 L112.00 429.9 L113.60 432.8 L112.00 435.7 Z" fill="#000" stroke="none" stroke-width="1"/>
<text x="0.00" y="0.00" font-size="8.6" font-weight="bold" fill="#111" transform="translate(125.30 435.80) scale(0.68 1)">CD14</text>
<path d="M173.40 413.90 L175.90 411.68 L177.60 402.80 L179.00 390.59 L180.40 383.38 L181.60 369.50 L183.00 360.06 L184.20 360.62 L185.40 375.05 L186.80 391.70 L188.20 400.58 L190.00 405.02 L192.00 408.90 L194.00 411.68 L196.40 413.90 Z" fill="#b0002c" stroke="#8c0022" stroke-width="0.4"/>
<path d="M173.90 413.90 L176.40 411.68 L178.20 403.91 L179.60 391.70 L181.00 385.04 L182.20 370.61 L183.40 360.62 L184.60 360.06 L185.80 373.94 L187.00 391.70 L188.00 403.91 L189.20 410.57 L190.60 413.90 Z" fill="#cbcbd1" stroke="#a3a3b8" stroke-width="0.5"/>
<path d="M160.40 413.90 L172.40 413.90 L175.40 411.68 L177.20 402.80 L178.60 389.48 L180.00 382.82 L181.20 375.05 L182.60 362.84 L183.80 359.51 L185.00 363.95 L186.40 380.60 L187.80 395.03 L189.40 402.80 L191.40 407.79 L193.60 411.68 L196.40 413.90 L218.40 413.90" fill="none" stroke="#6e86b8" stroke-width="0.8"/>
<path d="M160.40 413.90 L173.40 413.90 L176.60 411.12 L178.40 401.69 L180.00 388.92 L181.40 375.05 L182.80 363.95 L184.00 359.51 L185.20 365.06 L186.40 379.49 L187.60 395.03 L188.80 406.13 L190.20 412.23 L191.90 413.90 L218.40 413.90" fill="none" stroke="#6bb03c" stroke-width="0.8" stroke-dasharray="0.9 1"/>
<path d="M157.40 413.90H160.40M158.90 411.68H160.40M158.90 409.46H160.40M158.90 407.24H160.40M158.90 405.02H160.40M157.40 402.80H160.40M158.90 400.58H160.40M158.90 398.36H160.40M158.90 396.14H160.40M158.90 393.92H160.40M157.40 391.70H160.40M158.90 389.48H160.40M158.90 387.26H160.40M158.90 385.04H160.40M158.90 382.82H160.40M157.40 380.60H160.40M158.90 378.38H160.40M158.90 376.16H160.40M158.90 373.94H160.40M158.90 371.72H160.40M157.40 369.50H160.40M158.90 367.28H160.40M158.90 365.06H160.40M158.90 362.84H160.40M158.90 360.62H160.40M157.40 358.40H160.40" fill="none" stroke="#111" stroke-width="0.7"/>
<text x="0.00" y="0.00" font-size="6.1" text-anchor="end" fill="#0c0c0c" transform="translate(154.30 416.20) scale(1.04 1)" stroke="#0c0c0c" stroke-width="0.16">0</text>
<text x="0.00" y="0.00" font-size="6.1" text-anchor="end" fill="#0c0c0c" transform="translate(154.30 405.10) scale(1.04 1)" stroke="#0c0c0c" stroke-width="0.16">20</text>
<text x="0.00" y="0.00" font-size="6.1" text-anchor="end" fill="#0c0c0c" transform="translate(154.30 394.00) scale(1.04 1)" stroke="#0c0c0c" stroke-width="0.16">40</text>
<text x="0.00" y="0.00" font-size="6.1" text-anchor="end" fill="#0c0c0c" transform="translate(154.30 382.90) scale(1.04 1)" stroke="#0c0c0c" stroke-width="0.16">60</text>
<text x="0.00" y="0.00" font-size="6.1" text-anchor="end" fill="#0c0c0c" transform="translate(154.30 371.80) scale(1.04 1)" stroke="#0c0c0c" stroke-width="0.16">80</text>
<text x="0.00" y="0.00" font-size="6.1" text-anchor="end" fill="#0c0c0c" transform="translate(154.30 360.70) scale(1.04 1)" stroke="#0c0c0c" stroke-width="0.16">100</text>
<path d="M161.90 414.10v1.7M163.40 414.10v1.7M164.90 414.10v1.7M166.40 414.10v2.6M167.90 414.10v1.7M169.40 414.10v1.7M170.90 414.10v1.7M172.40 414.10v1.7M174.40 414.10v2.6M178.40 414.10v1.7M181.40 414.10v1.7M183.90 414.10v1.7M185.90 414.10v1.7M187.40 414.10v1.7M188.60 414.10v1.7M190.40 414.10v2.6M193.90 414.10v1.7M196.40 414.10v1.7M198.40 414.10v1.7M200.00 414.10v1.7M201.40 414.10v1.7M202.60 414.10v1.7M204.40 414.10v2.6M207.90 414.10v1.7M210.40 414.10v1.7M212.40 414.10v1.7M214.00 414.10v1.7M215.40 414.10v1.7M216.60 414.10v2.6" fill="none" stroke="#111" stroke-width="0.9"/>
<rect x="160.40" y="356.00" width="58.40" height="58.10" fill="none" stroke="#1c1c1c" stroke-width="1.4"/>
<text x="165.70" y="425.80" font-size="6.2" text-anchor="middle" fill="#0c0c0c" stroke="#0c0c0c" stroke-width="0.16">0</text>
<text x="174.50" y="425.80" font-size="6.2" text-anchor="middle" fill="#0c0c0c" stroke="#0c0c0c" stroke-width="0.16">10<tspan font-size="4.2" dy="-2.6">2</tspan></text>
<text x="187.40" y="425.80" font-size="6.2" text-anchor="middle" fill="#0c0c0c" stroke="#0c0c0c" stroke-width="0.16">10<tspan font-size="4.2" dy="-2.6">3</tspan></text>
<text x="200.80" y="425.80" font-size="6.2" text-anchor="middle" fill="#0c0c0c" stroke="#0c0c0c" stroke-width="0.16">10<tspan font-size="4.2" dy="-2.6">4</tspan></text>
<text x="213.50" y="425.80" font-size="6.2" text-anchor="middle" fill="#0c0c0c" stroke="#0c0c0c" stroke-width="0.16">10<tspan font-size="4.2" dy="-2.6">5</tspan></text>
<line x1="161.40" y1="432.80" x2="191.60" y2="432.80" stroke="#2a2a2a" stroke-width="1.3" stroke-linecap="butt"/>
<path d="M196.60 432.8 L189.00 429.9 L190.60 432.8 L189.00 435.7 Z" fill="#000" stroke="none" stroke-width="1"/>
<text x="0.00" y="0.00" font-size="8.6" font-weight="bold" fill="#111" transform="translate(202.80 435.80) scale(0.68 1)">CD16</text>
<path d="M246.60 413.90 L248.60 411.12 L250.00 402.80 L251.00 397.25 L252.20 388.92 L253.40 375.05 L254.60 363.95 L255.80 360.06 L256.80 362.84 L257.80 370.61 L259.00 386.15 L260.40 400.02 L261.80 409.46 L263.60 413.90 Z" fill="#cbcbd1" stroke="#a3a3b8" stroke-width="0.5"/>
<path d="M256.60 413.90 L259.10 412.23 L261.20 407.24 L263.00 396.14 L264.60 381.71 L266.20 369.50 L267.60 362.28 L268.80 360.06 L270.00 363.95 L271.20 376.16 L272.40 391.70 L273.60 405.02 L274.80 411.68 L276.20 413.90 Z" fill="#b0002c" stroke="#8c0022" stroke-width="0.4"/>
<path d="M237.60 413.90 L254.60 413.90 L257.60 412.23 L259.80 407.24 L261.60 397.25 L263.20 383.38 L264.60 370.61 L266.00 362.28 L267.20 360.06 L268.40 362.84 L269.80 373.94 L271.20 388.92 L272.60 402.80 L274.00 411.12 L275.60 413.90 L295.60 413.90" fill="none" stroke="#2c4a94" stroke-width="0.8"/>
<path d="M237.60 413.90 L252.60 413.90 L255.60 412.23 L257.80 407.24 L259.60 396.14 L261.20 380.60 L262.60 367.28 L263.80 360.62 L265.00 361.17 L266.40 369.50 L268.00 383.38 L269.60 397.25 L271.40 407.24 L273.20 412.23 L275.10 413.90 L295.60 413.90" fill="none" stroke="#6bb03c" stroke-width="0.8" stroke-dasharray="0.9 1"/>
<path d="M234.60 413.90H237.60M236.10 411.68H237.60M236.10 409.46H237.60M236.10 407.24H237.60M236.10 405.02H237.60M234.60 402.80H237.60M236.10 400.58H237.60M236.10 398.36H237.60M236.10 396.14H237.60M236.10 393.92H237.60M234.60 391.70H237.60M236.10 389.48H237.60M236.10 387.26H237.60M236.10 385.04H237.60M236.10 382.82H237.60M234.60 380.60H237.60M236.10 378.38H237.60M236.10 376.16H237.60M236.10 373.94H237.60M236.10 371.72H237.60M234.60 369.50H237.60M236.10 367.28H237.60M236.10 365.06H237.60M236.10 362.84H237.60M236.10 360.62H237.60M234.60 358.40H237.60" fill="none" stroke="#111" stroke-width="0.7"/>
<text x="0.00" y="0.00" font-size="6.1" text-anchor="end" fill="#0c0c0c" transform="translate(231.50 416.20) scale(1.04 1)" stroke="#0c0c0c" stroke-width="0.16">0</text>
<text x="0.00" y="0.00" font-size="6.1" text-anchor="end" fill="#0c0c0c" transform="translate(231.50 405.10) scale(1.04 1)" stroke="#0c0c0c" stroke-width="0.16">20</text>
<text x="0.00" y="0.00" font-size="6.1" text-anchor="end" fill="#0c0c0c" transform="translate(231.50 394.00) scale(1.04 1)" stroke="#0c0c0c" stroke-width="0.16">40</text>
<text x="0.00" y="0.00" font-size="6.1" text-anchor="end" fill="#0c0c0c" transform="translate(231.50 382.90) scale(1.04 1)" stroke="#0c0c0c" stroke-width="0.16">60</text>
<text x="0.00" y="0.00" font-size="6.1" text-anchor="end" fill="#0c0c0c" transform="translate(231.50 371.80) scale(1.04 1)" stroke="#0c0c0c" stroke-width="0.16">80</text>
<text x="0.00" y="0.00" font-size="6.1" text-anchor="end" fill="#0c0c0c" transform="translate(231.50 360.70) scale(1.04 1)" stroke="#0c0c0c" stroke-width="0.16">100</text>
<path d="M239.10 414.10v1.7M240.60 414.10v1.7M242.10 414.10v1.7M243.60 414.10v2.6M245.10 414.10v1.7M246.60 414.10v1.7M248.10 414.10v1.7M249.60 414.10v1.7M251.60 414.10v2.6M255.60 414.10v1.7M258.60 414.10v1.7M261.10 414.10v1.7M263.10 414.10v1.7M264.60 414.10v1.7M265.80 414.10v1.7M267.60 414.10v2.6M271.10 414.10v1.7M273.60 414.10v1.7M275.60 414.10v1.7M277.20 414.10v1.7M278.60 414.10v1.7M279.80 414.10v1.7M281.60 414.10v2.6M285.10 414.10v1.7M287.60 414.10v1.7M289.60 414.10v1.7M291.20 414.10v1.7M292.60 414.10v1.7M293.80 414.10v2.6" fill="none" stroke="#111" stroke-width="0.9"/>
<rect x="237.60" y="356.00" width="58.40" height="58.10" fill="none" stroke="#1c1c1c" stroke-width="1.4"/>
<text x="242.90" y="425.80" font-size="6.2" text-anchor="middle" fill="#0c0c0c" stroke="#0c0c0c" stroke-width="0.16">0</text>
<text x="251.70" y="425.80" font-size="6.2" text-anchor="middle" fill="#0c0c0c" stroke="#0c0c0c" stroke-width="0.16">10<tspan font-size="4.2" dy="-2.6">2</tspan></text>
<text x="264.60" y="425.80" font-size="6.2" text-anchor="middle" fill="#0c0c0c" stroke="#0c0c0c" stroke-width="0.16">10<tspan font-size="4.2" dy="-2.6">3</tspan></text>
<text x="278.00" y="425.80" font-size="6.2" text-anchor="middle" fill="#0c0c0c" stroke="#0c0c0c" stroke-width="0.16">10<tspan font-size="4.2" dy="-2.6">4</tspan></text>
<text x="290.70" y="425.80" font-size="6.2" text-anchor="middle" fill="#0c0c0c" stroke="#0c0c0c" stroke-width="0.16">10<tspan font-size="4.2" dy="-2.6">5</tspan></text>
<line x1="238.60" y1="432.80" x2="270.40" y2="432.80" stroke="#2a2a2a" stroke-width="1.3" stroke-linecap="butt"/>
<path d="M275.40 432.8 L267.80 429.9 L269.40 432.8 L267.80 435.7 Z" fill="#000" stroke="none" stroke-width="1"/>
<text x="0.00" y="0.00" font-size="8.6" font-weight="bold" fill="#111" transform="translate(280.30 435.80) scale(0.68 1)">CCR2</text>
<path d="M321.50 413.90 L323.20 409.46 L324.40 403.91 L326.00 401.69 L327.20 394.47 L328.40 380.60 L329.60 365.06 L330.80 360.06 L331.80 362.84 L332.80 372.27 L333.80 377.27 L334.80 378.38 L335.80 386.15 L337.00 398.36 L338.40 408.35 L340.00 413.90 Z" fill="#cbcbd1" stroke="#a3a3b8" stroke-width="0.5"/>
<path d="M333.00 413.90 L335.00 411.68 L336.60 406.13 L337.80 394.47 L339.00 377.82 L340.00 365.06 L341.00 360.06 L342.00 363.95 L343.20 377.82 L344.40 392.81 L345.80 403.91 L347.40 410.01 L349.50 413.90 Z" fill="#b0002c" stroke="#8c0022" stroke-width="0.4"/>
<path d="M316.00 413.90 L334.00 413.90 L337.00 412.23 L339.40 406.13 L341.20 391.70 L342.80 373.94 L344.20 362.28 L345.20 360.06 L346.40 365.06 L347.60 379.49 L348.80 395.03 L350.00 407.24 L351.40 412.79 L352.50 413.90 L374.00 413.90" fill="none" stroke="#6bb03c" stroke-width="0.8" stroke-dasharray="0.9 1"/>
<path d="M316.00 413.90 L340.00 413.90 L342.40 412.23 L344.00 406.13 L345.40 391.70 L346.60 373.94 L347.80 362.28 L349.00 359.51 L350.20 362.84 L351.40 375.05 L352.60 390.59 L353.80 405.02 L355.00 412.23 L356.20 413.90 L374.00 413.90" fill="none" stroke="#2c4a94" stroke-width="0.8"/>
<path d="M313.00 413.90H316.00M314.50 411.68H316.00M314.50 409.46H316.00M314.50 407.24H316.00M314.50 405.02H316.00M313.00 402.80H316.00M314.50 400.58H316.00M314.50 398.36H316.00M314.50 396.14H316.00M314.50 393.92H316.00M313.00 391.70H316.00M314.50 389.48H316.00M314.50 387.26H316.00M314.50 385.04H316.00M314.50 382.82H316.00M313.00 380.60H316.00M314.50 378.38H316.00M314.50 376.16H316.00M314.50 373.94H316.00M314.50 371.72H316.00M313.00 369.50H316.00M314.50 367.28H316.00M314.50 365.06H316.00M314.50 362.84H316.00M314.50 360.62H316.00M313.00 358.40H316.00" fill="none" stroke="#111" stroke-width="0.7"/>
<text x="0.00" y="0.00" font-size="6.1" text-anchor="end" fill="#0c0c0c" transform="translate(309.90 416.20) scale(1.04 1)" stroke="#0c0c0c" stroke-width="0.16">0</text>
<text x="0.00" y="0.00" font-size="6.1" text-anchor="end" fill="#0c0c0c" transform="translate(309.90 405.10) scale(1.04 1)" stroke="#0c0c0c" stroke-width="0.16">20</text>
<text x="0.00" y="0.00" font-size="6.1" text-anchor="end" fill="#0c0c0c" transform="translate(309.90 394.00) scale(1.04 1)" stroke="#0c0c0c" stroke-width="0.16">40</text>
<text x="0.00" y="0.00" font-size="6.1" text-anchor="end" fill="#0c0c0c" transform="translate(309.90 382.90) scale(1.04 1)" stroke="#0c0c0c" stroke-width="0.16">60</text>
<text x="0.00" y="0.00" font-size="6.1" text-anchor="end" fill="#0c0c0c" transform="translate(309.90 371.80) scale(1.04 1)" stroke="#0c0c0c" stroke-width="0.16">80</text>
<text x="0.00" y="0.00" font-size="6.1" text-anchor="end" fill="#0c0c0c" transform="translate(309.90 360.70) scale(1.04 1)" stroke="#0c0c0c" stroke-width="0.16">100</text>
<path d="M317.50 414.10v1.7M319.00 414.10v1.7M320.50 414.10v1.7M322.00 414.10v2.6M323.50 414.10v1.7M325.00 414.10v1.7M326.50 414.10v1.7M328.00 414.10v1.7M330.00 414.10v2.6M334.00 414.10v1.7M337.00 414.10v1.7M339.50 414.10v1.7M341.50 414.10v1.7M343.00 414.10v1.7M344.20 414.10v1.7M346.00 414.10v2.6M349.50 414.10v1.7M352.00 414.10v1.7M354.00 414.10v1.7M355.60 414.10v1.7M357.00 414.10v1.7M358.20 414.10v1.7M360.00 414.10v2.6M363.50 414.10v1.7M366.00 414.10v1.7M368.00 414.10v1.7M369.60 414.10v1.7M371.00 414.10v1.7M372.20 414.10v2.6" fill="none" stroke="#111" stroke-width="0.9"/>
<rect x="316.00" y="356.00" width="58.40" height="58.10" fill="none" stroke="#1c1c1c" stroke-width="1.4"/>
<text x="321.30" y="425.80" font-size="6.2" text-anchor="middle" fill="#0c0c0c" stroke="#0c0c0c" stroke-width="0.16">0</text>
<text x="330.10" y="425.80" font-size="6.2" text-anchor="middle" fill="#0c0c0c" stroke="#0c0c0c" stroke-width="0.16">10<tspan font-size="4.2" dy="-2.6">2</tspan></text>
<text x="343.00" y="425.80" font-size="6.2" text-anchor="middle" fill="#0c0c0c" stroke="#0c0c0c" stroke-width="0.16">10<tspan font-size="4.2" dy="-2.6">3</tspan></text>
<text x="356.40" y="425.80" font-size="6.2" text-anchor="middle" fill="#0c0c0c" stroke="#0c0c0c" stroke-width="0.16">10<tspan font-size="4.2" dy="-2.6">4</tspan></text>
<text x="369.10" y="425.80" font-size="6.2" text-anchor="middle" fill="#0c0c0c" stroke="#0c0c0c" stroke-width="0.16">10<tspan font-size="4.2" dy="-2.6">5</tspan></text>
<line x1="317.00" y1="432.80" x2="342.60" y2="432.80" stroke="#2a2a2a" stroke-width="1.3" stroke-linecap="butt"/>
<path d="M347.60 432.8 L340.00 429.9 L341.60 432.8 L340.00 435.7 Z" fill="#000" stroke="none" stroke-width="1"/>
<text x="0.00" y="0.00" font-size="8.6" font-weight="bold" fill="#111" transform="translate(352.00 435.80) scale(0.655 1)">CX3CR1</text>
<line x1="419.30" y1="353.50" x2="419.30" y2="424.20" stroke="#1f1f1f" stroke-width="1.1" stroke-linecap="butt"/>
<line x1="416.30" y1="355.10" x2="419.30" y2="355.10" stroke="#1f1f1f" stroke-width="0.9" stroke-linecap="butt"/>
<text x="0.00" y="0.00" font-size="7.2" text-anchor="end" fill="#0c0c0c" transform="translate(413.00 357.66) scale(1.08 1)" stroke="#0c0c0c" stroke-width="0.16">100</text>
<line x1="416.30" y1="368.80" x2="419.30" y2="368.80" stroke="#1f1f1f" stroke-width="0.9" stroke-linecap="butt"/>
<text x="0.00" y="0.00" font-size="7.2" text-anchor="end" fill="#0c0c0c" transform="translate(413.00 371.36) scale(1.08 1)" stroke="#0c0c0c" stroke-width="0.16">80</text>
<line x1="416.30" y1="382.60" x2="419.30" y2="382.60" stroke="#1f1f1f" stroke-width="0.9" stroke-linecap="butt"/>
<text x="0.00" y="0.00" font-size="7.2" text-anchor="end" fill="#0c0c0c" transform="translate(413.00 385.16) scale(1.08 1)" stroke="#0c0c0c" stroke-width="0.16">60</text>
<line x1="416.30" y1="396.30" x2="419.30" y2="396.30" stroke="#1f1f1f" stroke-width="0.9" stroke-linecap="butt"/>
<text x="0.00" y="0.00" font-size="7.2" text-anchor="end" fill="#0c0c0c" transform="translate(413.00 398.86) scale(1.08 1)" stroke="#0c0c0c" stroke-width="0.16">40</text>
<line x1="416.30" y1="410.00" x2="419.30" y2="410.00" stroke="#1f1f1f" stroke-width="0.9" stroke-linecap="butt"/>
<text x="0.00" y="0.00" font-size="7.2" text-anchor="end" fill="#0c0c0c" transform="translate(413.00 412.56) scale(1.08 1)" stroke="#0c0c0c" stroke-width="0.16">20</text>
<line x1="416.30" y1="423.70" x2="419.30" y2="423.70" stroke="#1f1f1f" stroke-width="0.9" stroke-linecap="butt"/>
<text x="0.00" y="0.00" font-size="7.2" text-anchor="end" fill="#0c0c0c" transform="translate(413.00 426.26) scale(1.08 1)" stroke="#0c0c0c" stroke-width="0.16">0</text>
<line x1="426.15" y1="377.90" x2="426.15" y2="391.30" stroke="#333" stroke-width="0.9" stroke-linecap="butt"/>
<line x1="424.25" y1="377.90" x2="428.05" y2="377.90" stroke="#333" stroke-width="0.9" stroke-linecap="butt"/>
<rect x="421.70" y="391.30" width="8.90" height="32.40" fill="#69a8e0" stroke="none" stroke-width="1"/>
<line x1="439.90" y1="354.80" x2="439.90" y2="361.00" stroke="#333" stroke-width="0.9" stroke-linecap="butt"/>
<line x1="438.00" y1="354.80" x2="441.80" y2="354.80" stroke="#333" stroke-width="0.9" stroke-linecap="butt"/>
<rect x="435.40" y="361.00" width="9.00" height="62.70" fill="#68a83a" stroke="none" stroke-width="1"/>
<line x1="453.85" y1="375.80" x2="453.85" y2="383.70" stroke="#333" stroke-width="0.9" stroke-linecap="butt"/>
<line x1="451.95" y1="375.80" x2="455.75" y2="375.80" stroke="#333" stroke-width="0.9" stroke-linecap="butt"/>
<rect x="449.20" y="383.70" width="9.30" height="40.00" fill="#4c2167" stroke="none" stroke-width="1"/>
<line x1="418.85" y1="424.00" x2="459.80" y2="424.00" stroke="#2a2a2a" stroke-width="1.35" stroke-linecap="butt"/>
<line x1="426.10" y1="423.70" x2="426.10" y2="426.70" stroke="#1f1f1f" stroke-width="0.9" stroke-linecap="butt"/>
<line x1="439.90" y1="423.70" x2="439.90" y2="426.70" stroke="#1f1f1f" stroke-width="0.9" stroke-linecap="butt"/>
<line x1="453.80" y1="423.70" x2="453.80" y2="426.70" stroke="#1f1f1f" stroke-width="0.9" stroke-linecap="butt"/>
<path d="M426.00 351.80 L426.00 348.60 L440.00 348.60 L440.00 351.80" fill="none" stroke="#333" stroke-width="1.05"/>
<text x="433.00" y="347.60" font-size="7.0" text-anchor="middle" font-weight="bold" fill="#222">*</text>
<path d="M440.00 345.50 L440.00 342.30 L454.00 342.30 L454.00 345.50" fill="none" stroke="#333" stroke-width="1.05"/>
<text x="447.00" y="341.30" font-size="7.0" text-anchor="middle" font-weight="bold" fill="#222">*</text>
<text x="0.00" y="0.00" font-size="8.8" text-anchor="middle" font-weight="bold" fill="#0c0c0c" transform="translate(393.60 389.20) rotate(-90) scale(0.73 1)">% of CCR2<tspan font-size="5.6" dy="-3.2">+</tspan><tspan dy="3.2"> CX3CR1</tspan><tspan font-size="5.6" dy="-3.2">+</tspan></text>
<text x="0.00" y="0.00" font-size="7.3" text-anchor="end" fill="#0c0c0c" transform="translate(428.40 432.40) rotate(-45)" stroke="#0c0c0c" stroke-width="0.16">Mo</text>
<text x="0.00" y="0.00" font-size="7.3" text-anchor="end" fill="#0c0c0c" transform="translate(442.20 432.40) rotate(-45)" stroke="#0c0c0c" stroke-width="0.16">NK-Mo</text>
<text x="0.00" y="0.00" font-size="7.3" text-anchor="end" fill="#0c0c0c" transform="translate(456.20 432.40) rotate(-45)" stroke="#0c0c0c" stroke-width="0.16">NK//Mo</text>
<text x="0.00" y="0.00" font-size="11.8" font-weight="bold" fill="#000" transform="translate(6.70 480.00) scale(0.9 1)" stroke="#000" stroke-width="0.35">F</text>
<line x1="57.70" y1="488.40" x2="57.70" y2="566.50" stroke="#1f1f1f" stroke-width="1.1" stroke-linecap="butt"/>
<line x1="54.70" y1="490.00" x2="57.70" y2="490.00" stroke="#1f1f1f" stroke-width="0.9" stroke-linecap="butt"/>
<text x="0.00" y="0.00" font-size="7.2" text-anchor="end" fill="#0c0c0c" transform="translate(51.40 492.56) scale(1.08 1)" stroke="#0c0c0c" stroke-width="0.16">4000</text>
<line x1="54.70" y1="509.00" x2="57.70" y2="509.00" stroke="#1f1f1f" stroke-width="0.9" stroke-linecap="butt"/>
<text x="0.00" y="0.00" font-size="7.2" text-anchor="end" fill="#0c0c0c" transform="translate(51.40 511.56) scale(1.08 1)" stroke="#0c0c0c" stroke-width="0.16">3000</text>
<line x1="54.70" y1="528.00" x2="57.70" y2="528.00" stroke="#1f1f1f" stroke-width="0.9" stroke-linecap="butt"/>
<text x="0.00" y="0.00" font-size="7.2" text-anchor="end" fill="#0c0c0c" transform="translate(51.40 530.56) scale(1.08 1)" stroke="#0c0c0c" stroke-width="0.16">2000</text>
<line x1="54.70" y1="547.00" x2="57.70" y2="547.00" stroke="#1f1f1f" stroke-width="0.9" stroke-linecap="butt"/>
<text x="0.00" y="0.00" font-size="7.2" text-anchor="end" fill="#0c0c0c" transform="translate(51.40 549.56) scale(1.08 1)" stroke="#0c0c0c" stroke-width="0.16">1000</text>
<line x1="54.70" y1="566.00" x2="57.70" y2="566.00" stroke="#1f1f1f" stroke-width="0.9" stroke-linecap="butt"/>
<text x="0.00" y="0.00" font-size="7.2" text-anchor="end" fill="#0c0c0c" transform="translate(51.40 568.56) scale(1.08 1)" stroke="#0c0c0c" stroke-width="0.16">0</text>
<line x1="63.95" y1="525.40" x2="63.95" y2="535.60" stroke="#333" stroke-width="0.9" stroke-linecap="butt"/>
<line x1="62.05" y1="525.40" x2="65.85" y2="525.40" stroke="#333" stroke-width="0.9" stroke-linecap="butt"/>
<rect x="60.20" y="535.60" width="7.50" height="30.40" fill="#69a8e0" stroke="none" stroke-width="1"/>
<line x1="75.20" y1="506.30" x2="75.20" y2="513.80" stroke="#333" stroke-width="0.9" stroke-linecap="butt"/>
<line x1="73.30" y1="506.30" x2="77.10" y2="506.30" stroke="#333" stroke-width="0.9" stroke-linecap="butt"/>
<rect x="71.20" y="513.80" width="8.00" height="52.20" fill="#68a83a" stroke="none" stroke-width="1"/>
<line x1="86.90" y1="526.30" x2="86.90" y2="529.80" stroke="#333" stroke-width="0.9" stroke-linecap="butt"/>
<line x1="85.00" y1="526.30" x2="88.80" y2="526.30" stroke="#333" stroke-width="0.9" stroke-linecap="butt"/>
<rect x="83.00" y="529.80" width="7.80" height="36.20" fill="#4c2167" stroke="none" stroke-width="1"/>
<line x1="98.45" y1="522.50" x2="98.45" y2="527.00" stroke="#333" stroke-width="0.9" stroke-linecap="butt"/>
<line x1="96.55" y1="522.50" x2="100.35" y2="522.50" stroke="#333" stroke-width="0.9" stroke-linecap="butt"/>
<rect x="94.60" y="527.00" width="7.70" height="39.00" fill="#2f6a52" stroke="none" stroke-width="1"/>
<line x1="110.20" y1="512.10" x2="110.20" y2="512.90" stroke="#333" stroke-width="0.9" stroke-linecap="butt"/>
<line x1="108.30" y1="512.10" x2="112.10" y2="512.10" stroke="#333" stroke-width="0.9" stroke-linecap="butt"/>
<rect x="106.20" y="512.90" width="8.00" height="53.10" fill="#8d7fc2" stroke="none" stroke-width="1"/>
<line x1="122.00" y1="501.50" x2="122.00" y2="510.00" stroke="#333" stroke-width="0.9" stroke-linecap="butt"/>
<line x1="120.10" y1="501.50" x2="123.90" y2="501.50" stroke="#333" stroke-width="0.9" stroke-linecap="butt"/>
<rect x="118.00" y="510.00" width="8.00" height="56.00" fill="#b3651e" stroke="none" stroke-width="1"/>
<line x1="57.15" y1="566.30" x2="127.30" y2="566.30" stroke="#2a2a2a" stroke-width="1.35" stroke-linecap="butt"/>
<line x1="64.00" y1="566.00" x2="64.00" y2="569.00" stroke="#1f1f1f" stroke-width="0.9" stroke-linecap="butt"/>
<line x1="75.20" y1="566.00" x2="75.20" y2="569.00" stroke="#1f1f1f" stroke-width="0.9" stroke-linecap="butt"/>
<line x1="86.90" y1="566.00" x2="86.90" y2="569.00" stroke="#1f1f1f" stroke-width="0.9" stroke-linecap="butt"/>
<line x1="98.50" y1="566.00" x2="98.50" y2="569.00" stroke="#1f1f1f" stroke-width="0.9" stroke-linecap="butt"/>
<line x1="110.20" y1="566.00" x2="110.20" y2="569.00" stroke="#1f1f1f" stroke-width="0.9" stroke-linecap="butt"/>
<line x1="122.00" y1="566.00" x2="122.00" y2="569.00" stroke="#1f1f1f" stroke-width="0.9" stroke-linecap="butt"/>
<text x="0.00" y="0.00" font-size="8.8" text-anchor="middle" font-weight="bold" fill="#0c0c0c" transform="translate(28.00 528.00) rotate(-90) scale(0.69 1)">CX3CR1 MFI</text>
<path d="M63.50 477.20 L63.50 474.00 L121.20 474.00 L121.20 477.20" fill="none" stroke="#333" stroke-width="1.05"/>
<text x="92.35" y="473.00" font-size="7.0" text-anchor="middle" font-weight="bold" fill="#222">*</text>
<path d="M63.50 485.90 L63.50 482.70 L109.60 482.70 L109.60 485.90" fill="none" stroke="#333" stroke-width="1.05"/>
<text x="86.55" y="481.70" font-size="7.0" text-anchor="middle" font-weight="bold" fill="#222">**</text>
<path d="M75.40 496.50 L75.40 493.30 L86.50 493.30 L86.50 496.50" fill="none" stroke="#333" stroke-width="1.05"/>
<text x="80.95" y="492.30" font-size="7.0" text-anchor="middle" font-weight="bold" fill="#222">**</text>
<path d="M63.50 504.50 L63.50 501.30 L75.00 501.30 L75.00 504.50" fill="none" stroke="#333" stroke-width="1.05"/>
<text x="69.25" y="500.30" font-size="7.0" text-anchor="middle" font-weight="bold" fill="#222">**</text>
<path d="M77.00 508.00 L77.00 504.80 L98.50 504.80 L98.50 508.00" fill="none" stroke="#333" stroke-width="1.05"/>
<text x="87.75" y="503.80" font-size="7.0" text-anchor="middle" font-weight="bold" fill="#222">*</text>
<path d="M98.50 502.00 L98.50 498.80 L110.40 498.80 L110.40 502.00" fill="none" stroke="#333" stroke-width="1.05"/>
<text x="104.45" y="497.80" font-size="7.0" text-anchor="middle" font-weight="bold" fill="#222">*</text>
<text x="0.00" y="0.00" font-size="7.3" text-anchor="end" fill="#0c0c0c" transform="translate(66.60 575.60) rotate(-45)" stroke="#0c0c0c" stroke-width="0.16">Mo</text>
<text x="0.00" y="0.00" font-size="7.3" text-anchor="end" fill="#0c0c0c" transform="translate(77.80 575.60) rotate(-45)" stroke="#0c0c0c" stroke-width="0.16">NK-Mo</text>
<text x="0.00" y="0.00" font-size="7.3" text-anchor="end" fill="#0c0c0c" transform="translate(89.50 575.60) rotate(-45)" stroke="#0c0c0c" stroke-width="0.16">NK//Mo</text>
<text x="0.00" y="0.00" font-size="7.3" text-anchor="end" fill="#0c0c0c" transform="translate(101.10 575.60) rotate(-45)" stroke="#0c0c0c" stroke-width="0.16">NK-Mo + α-IFN-γ</text>
<text x="0.00" y="0.00" font-size="7.3" text-anchor="end" fill="#0c0c0c" transform="translate(112.80 575.60) rotate(-45)" stroke="#0c0c0c" stroke-width="0.16">NK-Mo + IgG1,κ</text>
<text x="0.00" y="0.00" font-size="7.3" text-anchor="end" fill="#0c0c0c" transform="translate(124.60 575.60) rotate(-45)" stroke="#0c0c0c" stroke-width="0.16">Mo + IFN-γ</text>
<text x="0.00" y="0.00" font-size="11.8" font-weight="bold" fill="#000" transform="translate(162.00 480.20) scale(0.9 1)" stroke="#000" stroke-width="0.35">G</text>
<rect x="176.40" y="493.20" width="4.90" height="4.90" fill="#69a8e0" stroke="none" stroke-width="1"/>
<text x="185.00" y="498.30" font-size="7.9" fill="#0c0c0c" stroke="#0c0c0c" stroke-width="0.16">Mo</text>
<rect x="176.40" y="504.60" width="4.90" height="4.90" fill="#68a83a" stroke="none" stroke-width="1"/>
<text x="185.00" y="509.70" font-size="7.9" fill="#0c0c0c" stroke="#0c0c0c" stroke-width="0.16">NK-Mo</text>
<rect x="176.40" y="515.90" width="4.90" height="4.90" fill="#4c2167" stroke="none" stroke-width="1"/>
<text x="185.00" y="521.00" font-size="7.9" fill="#0c0c0c" stroke="#0c0c0c" stroke-width="0.16">NK//Mo</text>
<text x="266.50" y="474.60" font-size="7.9" text-anchor="middle" fill="#0c0c0c" stroke="#0c0c0c" stroke-width="0.16">TNF-α</text>
<line x1="248.20" y1="491.70" x2="248.20" y2="570.30" stroke="#1f1f1f" stroke-width="1.1" stroke-linecap="butt"/>
<line x1="245.20" y1="493.30" x2="248.20" y2="493.30" stroke="#1f1f1f" stroke-width="0.9" stroke-linecap="butt"/>
<text x="0.00" y="0.00" font-size="7.7" text-anchor="end" fill="#0c0c0c" transform="translate(241.60 496.03) scale(1.08 1)" stroke="#0c0c0c" stroke-width="0.16">40</text>
<line x1="245.20" y1="512.40" x2="248.20" y2="512.40" stroke="#1f1f1f" stroke-width="0.9" stroke-linecap="butt"/>
<text x="0.00" y="0.00" font-size="7.7" text-anchor="end" fill="#0c0c0c" transform="translate(241.60 515.13) scale(1.08 1)" stroke="#0c0c0c" stroke-width="0.16">30</text>
<line x1="245.20" y1="531.60" x2="248.20" y2="531.60" stroke="#1f1f1f" stroke-width="0.9" stroke-linecap="butt"/>
<text x="0.00" y="0.00" font-size="7.7" text-anchor="end" fill="#0c0c0c" transform="translate(241.60 534.33) scale(1.08 1)" stroke="#0c0c0c" stroke-width="0.16">20</text>
<line x1="245.20" y1="550.70" x2="248.20" y2="550.70" stroke="#1f1f1f" stroke-width="0.9" stroke-linecap="butt"/>
<text x="0.00" y="0.00" font-size="7.7" text-anchor="end" fill="#0c0c0c" transform="translate(241.60 553.43) scale(1.08 1)" stroke="#0c0c0c" stroke-width="0.16">10</text>
<line x1="245.20" y1="569.80" x2="248.20" y2="569.80" stroke="#1f1f1f" stroke-width="0.9" stroke-linecap="butt"/>
<text x="0.00" y="0.00" font-size="7.7" text-anchor="end" fill="#0c0c0c" transform="translate(241.60 572.53) scale(1.08 1)" stroke="#0c0c0c" stroke-width="0.16">0</text>
<line x1="254.35" y1="546.20" x2="254.35" y2="552.50" stroke="#333" stroke-width="0.9" stroke-linecap="butt"/>
<line x1="252.45" y1="546.20" x2="256.25" y2="546.20" stroke="#333" stroke-width="0.9" stroke-linecap="butt"/>
<rect x="250.20" y="552.50" width="8.30" height="17.30" fill="#69a8e0" stroke="none" stroke-width="1"/>
<line x1="266.85" y1="506.70" x2="266.85" y2="517.30" stroke="#333" stroke-width="0.9" stroke-linecap="butt"/>
<line x1="264.95" y1="506.70" x2="268.75" y2="506.70" stroke="#333" stroke-width="0.9" stroke-linecap="butt"/>
<rect x="262.70" y="517.30" width="8.30" height="52.50" fill="#68a83a" stroke="none" stroke-width="1"/>
<line x1="279.35" y1="547.70" x2="279.35" y2="556.00" stroke="#333" stroke-width="0.9" stroke-linecap="butt"/>
<line x1="277.45" y1="547.70" x2="281.25" y2="547.70" stroke="#333" stroke-width="0.9" stroke-linecap="butt"/>
<rect x="275.20" y="556.00" width="8.30" height="13.80" fill="#4c2167" stroke="none" stroke-width="1"/>
<line x1="247.65" y1="570.10" x2="285.40" y2="570.10" stroke="#2a2a2a" stroke-width="1.35" stroke-linecap="butt"/>
<path d="M254.00 504.00 L254.00 500.80 L266.50 500.80 L266.50 504.00" fill="none" stroke="#333" stroke-width="1.05"/>
<text x="260.25" y="499.80" font-size="7.0" text-anchor="middle" font-weight="bold" fill="#222">***</text>
<path d="M266.50 493.60 L266.50 490.40 L279.00 490.40 L279.00 493.60" fill="none" stroke="#333" stroke-width="1.05"/>
<text x="272.75" y="489.40" font-size="7.0" text-anchor="middle" font-weight="bold" fill="#222">***</text>
<text x="0.00" y="0.00" font-size="8.8" text-anchor="middle" font-weight="bold" fill="#0c0c0c" transform="translate(225.80 530.40) rotate(-90) scale(0.81 1)">% CD14<tspan font-size="5.6" dy="-3.2">+</tspan><tspan dy="3.2"> TNF-α</tspan><tspan font-size="5.6" dy="-3.2">+</tspan></text>
<text x="344.80" y="474.60" font-size="7.9" text-anchor="middle" fill="#0c0c0c" stroke="#0c0c0c" stroke-width="0.16">IL-23p19</text>
<line x1="326.00" y1="492.60" x2="326.00" y2="570.30" stroke="#1f1f1f" stroke-width="1.1" stroke-linecap="butt"/>
<line x1="323.00" y1="494.20" x2="326.00" y2="494.20" stroke="#1f1f1f" stroke-width="0.9" stroke-linecap="butt"/>
<text x="0.00" y="0.00" font-size="7.7" text-anchor="end" fill="#0c0c0c" transform="translate(319.40 496.93) scale(1.08 1)" stroke="#0c0c0c" stroke-width="0.16">80</text>
<line x1="323.00" y1="513.10" x2="326.00" y2="513.10" stroke="#1f1f1f" stroke-width="0.9" stroke-linecap="butt"/>
<text x="0.00" y="0.00" font-size="7.7" text-anchor="end" fill="#0c0c0c" transform="translate(319.40 515.83) scale(1.08 1)" stroke="#0c0c0c" stroke-width="0.16">60</text>
<line x1="323.00" y1="532.00" x2="326.00" y2="532.00" stroke="#1f1f1f" stroke-width="0.9" stroke-linecap="butt"/>
<text x="0.00" y="0.00" font-size="7.7" text-anchor="end" fill="#0c0c0c" transform="translate(319.40 534.73) scale(1.08 1)" stroke="#0c0c0c" stroke-width="0.16">40</text>
<line x1="323.00" y1="550.90" x2="326.00" y2="550.90" stroke="#1f1f1f" stroke-width="0.9" stroke-linecap="butt"/>
<text x="0.00" y="0.00" font-size="7.7" text-anchor="end" fill="#0c0c0c" transform="translate(319.40 553.63) scale(1.08 1)" stroke="#0c0c0c" stroke-width="0.16">20</text>
<line x1="323.00" y1="569.80" x2="326.00" y2="569.80" stroke="#1f1f1f" stroke-width="0.9" stroke-linecap="butt"/>
<text x="0.00" y="0.00" font-size="7.7" text-anchor="end" fill="#0c0c0c" transform="translate(319.40 572.53) scale(1.08 1)" stroke="#0c0c0c" stroke-width="0.16">0</text>
<line x1="332.60" y1="512.30" x2="332.60" y2="516.30" stroke="#333" stroke-width="0.9" stroke-linecap="butt"/>
<line x1="330.70" y1="512.30" x2="334.50" y2="512.30" stroke="#333" stroke-width="0.9" stroke-linecap="butt"/>
<rect x="328.50" y="516.30" width="8.20" height="53.50" fill="#69a8e0" stroke="none" stroke-width="1"/>
<line x1="345.00" y1="501.30" x2="345.00" y2="504.80" stroke="#333" stroke-width="0.9" stroke-linecap="butt"/>
<line x1="343.10" y1="501.30" x2="346.90" y2="501.30" stroke="#333" stroke-width="0.9" stroke-linecap="butt"/>
<rect x="341.00" y="504.80" width="8.00" height="65.00" fill="#68a83a" stroke="none" stroke-width="1"/>
<line x1="357.25" y1="509.40" x2="357.25" y2="517.70" stroke="#333" stroke-width="0.9" stroke-linecap="butt"/>
<line x1="355.35" y1="509.40" x2="359.15" y2="509.40" stroke="#333" stroke-width="0.9" stroke-linecap="butt"/>
<rect x="353.00" y="517.70" width="8.50" height="52.10" fill="#4c2167" stroke="none" stroke-width="1"/>
<line x1="325.45" y1="570.10" x2="363.00" y2="570.10" stroke="#2a2a2a" stroke-width="1.35" stroke-linecap="butt"/>
<path d="M332.30 497.80 L332.30 494.60 L345.20 494.60 L345.20 497.80" fill="none" stroke="#333" stroke-width="1.05"/>
<text x="338.75" y="493.60" font-size="7.0" text-anchor="middle" font-weight="bold" fill="#222">**</text>
<path d="M345.20 487.60 L345.20 484.40 L357.00 484.40 L357.00 487.60" fill="none" stroke="#333" stroke-width="1.05"/>
<text x="351.10" y="483.40" font-size="7.0" text-anchor="middle" font-weight="bold" fill="#222">**</text>
<text x="0.00" y="0.00" font-size="8.8" text-anchor="middle" font-weight="bold" fill="#0c0c0c" transform="translate(306.00 530.90) rotate(-90) scale(0.733 1)">% CD14<tspan font-size="5.6" dy="-3.2">+</tspan><tspan dy="3.2"> IL-23p19</tspan><tspan font-size="5.6" dy="-3.2">+</tspan></text>
<rect x="176.40" y="586.00" width="4.90" height="4.90" fill="#69a8e0" stroke="none" stroke-width="1"/>
<text x="185.00" y="591.20" font-size="7.9" fill="#0c0c0c" stroke="#0c0c0c" stroke-width="0.16">NK-Mo</text>
<text x="185.00" y="601.40" font-size="7.9" fill="#0c0c0c" stroke="#0c0c0c" stroke-width="0.16">+ IgG1,κ</text>
<rect x="176.40" y="611.60" width="4.90" height="4.90" fill="#68a83a" stroke="none" stroke-width="1"/>
<text x="185.00" y="616.60" font-size="7.9" fill="#0c0c0c" stroke="#0c0c0c" stroke-width="0.16">NK-Mo</text>
<text x="185.00" y="626.80" font-size="7.9" fill="#0c0c0c" stroke="#0c0c0c" stroke-width="0.16">+ α-IFN-γ</text>
<line x1="250.00" y1="585.30" x2="250.00" y2="665.90" stroke="#1f1f1f" stroke-width="1.1" stroke-linecap="butt"/>
<line x1="247.00" y1="586.90" x2="250.00" y2="586.90" stroke="#1f1f1f" stroke-width="0.9" stroke-linecap="butt"/>
<text x="0.00" y="0.00" font-size="7.7" text-anchor="end" fill="#0c0c0c" transform="translate(243.40 589.63) scale(1.08 1)" stroke="#0c0c0c" stroke-width="0.16">40</text>
<line x1="247.00" y1="606.50" x2="250.00" y2="606.50" stroke="#1f1f1f" stroke-width="0.9" stroke-linecap="butt"/>
<text x="0.00" y="0.00" font-size="7.7" text-anchor="end" fill="#0c0c0c" transform="translate(243.40 609.23) scale(1.08 1)" stroke="#0c0c0c" stroke-width="0.16">30</text>
<line x1="247.00" y1="626.10" x2="250.00" y2="626.10" stroke="#1f1f1f" stroke-width="0.9" stroke-linecap="butt"/>
<text x="0.00" y="0.00" font-size="7.7" text-anchor="end" fill="#0c0c0c" transform="translate(243.40 628.83) scale(1.08 1)" stroke="#0c0c0c" stroke-width="0.16">20</text>
<line x1="247.00" y1="645.80" x2="250.00" y2="645.80" stroke="#1f1f1f" stroke-width="0.9" stroke-linecap="butt"/>
<text x="0.00" y="0.00" font-size="7.7" text-anchor="end" fill="#0c0c0c" transform="translate(243.40 648.53) scale(1.08 1)" stroke="#0c0c0c" stroke-width="0.16">10</text>
<line x1="247.00" y1="665.40" x2="250.00" y2="665.40" stroke="#1f1f1f" stroke-width="0.9" stroke-linecap="butt"/>
<text x="0.00" y="0.00" font-size="7.7" text-anchor="end" fill="#0c0c0c" transform="translate(243.40 668.13) scale(1.08 1)" stroke="#0c0c0c" stroke-width="0.16">0</text>
<line x1="256.15" y1="608.70" x2="256.15" y2="616.90" stroke="#333" stroke-width="0.9" stroke-linecap="butt"/>
<line x1="254.25" y1="608.70" x2="258.05" y2="608.70" stroke="#333" stroke-width="0.9" stroke-linecap="butt"/>
<rect x="252.30" y="616.90" width="7.70" height="48.50" fill="#69a8e0" stroke="none" stroke-width="1"/>
<line x1="267.85" y1="622.70" x2="267.85" y2="629.40" stroke="#333" stroke-width="0.9" stroke-linecap="butt"/>
<line x1="265.95" y1="622.70" x2="269.75" y2="622.70" stroke="#333" stroke-width="0.9" stroke-linecap="butt"/>
<rect x="264.00" y="629.40" width="7.70" height="36.00" fill="#68a83a" stroke="none" stroke-width="1"/>
<line x1="249.45" y1="665.70" x2="273.30" y2="665.70" stroke="#2a2a2a" stroke-width="1.35" stroke-linecap="butt"/>
<path d="M256.00 604.50 L256.00 601.30 L267.50 601.30 L267.50 604.50" fill="none" stroke="#333" stroke-width="1.05"/>
<text x="261.75" y="600.30" font-size="7.0" text-anchor="middle" font-weight="bold" fill="#222">*</text>
<text x="0.00" y="0.00" font-size="8.8" text-anchor="middle" font-weight="bold" fill="#0c0c0c" transform="translate(229.30 625.20) rotate(-90) scale(0.81 1)">% CD14<tspan font-size="5.6" dy="-3.2">+</tspan><tspan dy="3.2"> TNF-α</tspan><tspan font-size="5.6" dy="-3.2">+</tspan></text>
<line x1="326.00" y1="588.20" x2="326.00" y2="665.90" stroke="#1f1f1f" stroke-width="1.1" stroke-linecap="butt"/>
<line x1="323.00" y1="589.80" x2="326.00" y2="589.80" stroke="#1f1f1f" stroke-width="0.9" stroke-linecap="butt"/>
<text x="0.00" y="0.00" font-size="7.7" text-anchor="end" fill="#0c0c0c" transform="translate(319.40 592.53) scale(1.08 1)" stroke="#0c0c0c" stroke-width="0.16">80</text>
<line x1="323.00" y1="608.70" x2="326.00" y2="608.70" stroke="#1f1f1f" stroke-width="0.9" stroke-linecap="butt"/>
<text x="0.00" y="0.00" font-size="7.7" text-anchor="end" fill="#0c0c0c" transform="translate(319.40 611.43) scale(1.08 1)" stroke="#0c0c0c" stroke-width="0.16">60</text>
<line x1="323.00" y1="627.60" x2="326.00" y2="627.60" stroke="#1f1f1f" stroke-width="0.9" stroke-linecap="butt"/>
<text x="0.00" y="0.00" font-size="7.7" text-anchor="end" fill="#0c0c0c" transform="translate(319.40 630.33) scale(1.08 1)" stroke="#0c0c0c" stroke-width="0.16">40</text>
<line x1="323.00" y1="646.50" x2="326.00" y2="646.50" stroke="#1f1f1f" stroke-width="0.9" stroke-linecap="butt"/>
<text x="0.00" y="0.00" font-size="7.7" text-anchor="end" fill="#0c0c0c" transform="translate(319.40 649.23) scale(1.08 1)" stroke="#0c0c0c" stroke-width="0.16">20</text>
<line x1="323.00" y1="665.40" x2="326.00" y2="665.40" stroke="#1f1f1f" stroke-width="0.9" stroke-linecap="butt"/>
<text x="0.00" y="0.00" font-size="7.7" text-anchor="end" fill="#0c0c0c" transform="translate(319.40 668.13) scale(1.08 1)" stroke="#0c0c0c" stroke-width="0.16">0</text>
<line x1="331.90" y1="594.20" x2="331.90" y2="602.50" stroke="#333" stroke-width="0.9" stroke-linecap="butt"/>
<line x1="330.00" y1="594.20" x2="333.80" y2="594.20" stroke="#333" stroke-width="0.9" stroke-linecap="butt"/>
<rect x="328.00" y="602.50" width="7.80" height="62.90" fill="#69a8e0" stroke="none" stroke-width="1"/>
<line x1="343.25" y1="603.50" x2="343.25" y2="608.70" stroke="#333" stroke-width="0.9" stroke-linecap="butt"/>
<line x1="341.35" y1="603.50" x2="345.15" y2="603.50" stroke="#333" stroke-width="0.9" stroke-linecap="butt"/>
<rect x="339.40" y="608.70" width="7.70" height="56.70" fill="#68a83a" stroke="none" stroke-width="1"/>
<line x1="325.45" y1="665.70" x2="348.70" y2="665.70" stroke="#2a2a2a" stroke-width="1.35" stroke-linecap="butt"/>
<path d="M331.70 591.90 L331.70 588.70 L343.30 588.70 L343.30 591.90" fill="none" stroke="#333" stroke-width="1.05"/>
<text x="337.50" y="586.70" font-size="6.8" text-anchor="middle" fill="#222" stroke="#222" stroke-width="0.16">NS</text>
<text x="0.00" y="0.00" font-size="8.8" text-anchor="middle" font-weight="bold" fill="#0c0c0c" transform="translate(306.10 626.20) rotate(-90) scale(0.733 1)">% CD14<tspan font-size="5.6" dy="-3.2">+</tspan><tspan dy="3.2"> IL-23p19</tspan><tspan font-size="5.6" dy="-3.2">+</tspan></text>
<text x="0.00" y="0.00" font-size="11.8" font-weight="bold" fill="#000" transform="translate(7.30 23.50) scale(0.9 1)" stroke="#000" stroke-width="0.35">A</text>
<line x1="126.47" y1="14.75" x2="126.89" y2="38.00" stroke="#2a2a2a" stroke-width="0.68" stroke-dasharray="2.9 1.5" stroke-linecap="butt"/>
<path d="M126.93 40.20 L125.58 37.12 L128.18 37.08 Z" fill="#000" stroke="none" stroke-width="1"/>
<line x1="128.51" y1="14.75" x2="150.88" y2="57.65" stroke="#2a2a2a" stroke-width="0.68" stroke-dasharray="2.9 1.5" stroke-linecap="butt"/>
<path d="M151.90 59.60 L149.32 57.45 L151.62 56.25 Z" fill="#000" stroke="none" stroke-width="1"/>
<line x1="91.79" y1="52.13" x2="148.24" y2="63.03" stroke="#2a2a2a" stroke-width="0.68" stroke-dasharray="2.9 1.5" stroke-linecap="butt"/>
<path d="M150.40 63.45 L147.11 64.14 L147.60 61.58 Z" fill="#000" stroke="none" stroke-width="1"/>
<line x1="87.81" y1="62.89" x2="87.09" y2="106.25" stroke="#2a2a2a" stroke-width="0.68" stroke-dasharray="2.9 1.5" stroke-linecap="butt"/>
<path d="M87.05 108.45 L85.80 105.33 L88.40 105.37 Z" fill="#000" stroke="none" stroke-width="1"/>
<path d="M87.85 60.69 L86.49 63.77 L89.09 63.81 Z" fill="#000" stroke="none" stroke-width="1"/>
<line x1="91.19" y1="56.45" x2="105.60" y2="79.29" stroke="#2a2a2a" stroke-width="0.68" stroke-dasharray="2.9 1.5" stroke-linecap="butt"/>
<path d="M106.78 81.15 L104.02 79.22 L106.22 77.83 Z" fill="#000" stroke="none" stroke-width="1"/>
<line x1="91.51" y1="54.94" x2="128.33" y2="92.09" stroke="#2a2a2a" stroke-width="0.68" stroke-dasharray="2.9 1.5" stroke-linecap="butt"/>
<path d="M129.88 93.65 L126.77 92.36 L128.62 90.53 Z" fill="#000" stroke="none" stroke-width="1"/>
<line x1="90.98" y1="57.16" x2="122.60" y2="118.15" stroke="#2a2a2a" stroke-width="0.68" stroke-dasharray="2.9 1.5" stroke-linecap="butt"/>
<path d="M123.62 120.10 L121.03 117.95 L123.34 116.75 Z" fill="#000" stroke="none" stroke-width="1"/>
<line x1="56.73" y1="89.70" x2="80.98" y2="107.16" stroke="#2a2a2a" stroke-width="0.68" stroke-dasharray="2.9 1.5" stroke-linecap="butt"/>
<path d="M82.77 108.45 L79.49 107.69 L81.01 105.58 Z" fill="#000" stroke="none" stroke-width="1"/>
<line x1="56.39" y1="90.10" x2="119.84" y2="149.55" stroke="#2a2a2a" stroke-width="0.68" stroke-dasharray="2.9 1.5" stroke-linecap="butt"/>
<path d="M121.44 151.05 L118.29 149.88 L120.07 147.98 Z" fill="#000" stroke="none" stroke-width="1"/>
<line x1="90.16" y1="108.45" x2="165.16" y2="36.08" stroke="#2a2a2a" stroke-width="0.68" stroke-linecap="butt"/>
<path d="M166.74 34.55 L165.41 37.64 L163.61 35.77 Z" fill="#000" stroke="none" stroke-width="1"/>
<line x1="156.48" y1="59.60" x2="167.02" y2="37.35" stroke="#2a2a2a" stroke-width="0.68" stroke-dasharray="2.9 1.5" stroke-linecap="butt"/>
<path d="M167.97 35.36 L167.81 38.72 L165.46 37.60 Z" fill="#000" stroke="none" stroke-width="1"/>
<line x1="158.02" y1="161.10" x2="169.09" y2="38.42" stroke="#2a2a2a" stroke-width="0.68" stroke-dasharray="2.9 1.5" stroke-linecap="butt"/>
<path d="M169.29 36.23 L170.31 39.44 L167.72 39.20 Z" fill="#000" stroke="none" stroke-width="1"/>
<line x1="129.29" y1="47.63" x2="156.14" y2="90.28" stroke="#2a2a2a" stroke-width="0.68" stroke-linecap="butt"/>
<path d="M157.31 92.14 L154.56 90.21 L156.76 88.82 Z" fill="#000" stroke="none" stroke-width="1"/>
<line x1="126.95" y1="47.80" x2="126.08" y2="117.90" stroke="#2a2a2a" stroke-width="0.68" stroke-dasharray="2.9 1.5" stroke-linecap="butt"/>
<path d="M126.06 120.10 L124.80 116.98 L127.40 117.02 Z" fill="#000" stroke="none" stroke-width="1"/>
<line x1="126.92" y1="47.80" x2="124.81" y2="148.85" stroke="#2a2a2a" stroke-width="0.68" stroke-linecap="butt"/>
<path d="M124.76 151.05 L123.53 147.92 L126.13 147.98 Z" fill="#000" stroke="none" stroke-width="1"/>
<line x1="127.95" y1="47.77" x2="155.91" y2="158.97" stroke="#2a2a2a" stroke-width="0.68" stroke-dasharray="2.9 1.5" stroke-linecap="butt"/>
<path d="M156.44 161.10 L154.43 158.41 L156.95 157.78 Z" fill="#000" stroke="none" stroke-width="1"/>
<line x1="131.29" y1="47.17" x2="148.63" y2="60.01" stroke="#2a2a2a" stroke-width="0.68" stroke-dasharray="2.9 1.5" stroke-linecap="butt"/>
<path d="M150.40 61.31 L147.13 60.52 L148.68 58.43 Z" fill="#000" stroke="none" stroke-width="1"/>
<line x1="129.08" y1="118.11" x2="151.22" y2="70.79" stroke="#2a2a2a" stroke-width="0.68" stroke-dasharray="2.9 1.5" stroke-linecap="butt"/>
<path d="M152.15 68.80 L152.01 72.16 L149.66 71.06 Z" fill="#000" stroke="none" stroke-width="1"/>
<path d="M128.15 120.10 L130.64 117.84 L128.29 116.74 Z" fill="#000" stroke="none" stroke-width="1"/>
<line x1="157.38" y1="158.90" x2="154.52" y2="71.00" stroke="#2a2a2a" stroke-width="0.68" stroke-dasharray="2.9 1.5" stroke-linecap="butt"/>
<path d="M154.45 68.80 L155.85 71.86 L153.25 71.94 Z" fill="#000" stroke="none" stroke-width="1"/>
<path d="M157.45 161.10 L158.65 157.96 L156.05 158.04 Z" fill="#000" stroke="none" stroke-width="1"/>
<line x1="134.91" y1="93.65" x2="150.06" y2="70.64" stroke="#2a2a2a" stroke-width="0.68" stroke-dasharray="2.9 1.5" stroke-linecap="butt"/>
<path d="M151.27 68.80 L150.65 72.10 L148.48 70.67 Z" fill="#000" stroke="none" stroke-width="1"/>
<line x1="113.75" y1="81.99" x2="148.39" y2="66.79" stroke="#2a2a2a" stroke-width="0.68" stroke-dasharray="2.9 1.5" stroke-linecap="butt"/>
<path d="M150.40 65.91 L148.08 68.35 L147.04 65.97 Z" fill="#000" stroke="none" stroke-width="1"/>
<line x1="158.91" y1="88.75" x2="155.57" y2="70.96" stroke="#2a2a2a" stroke-width="0.68" stroke-linecap="butt"/>
<path d="M155.16 68.80 L157.01 71.61 L154.46 72.09 Z" fill="#000" stroke="none" stroke-width="1"/>
<line x1="131.72" y1="120.83" x2="182.08" y2="86.80" stroke="#2a2a2a" stroke-width="0.68" stroke-dasharray="2.9 1.5" stroke-linecap="butt"/>
<path d="M183.90 85.57 L182.06 88.38 L180.60 86.23 Z" fill="#000" stroke="none" stroke-width="1"/>
<path d="M129.90 122.06 L133.20 121.41 L131.74 119.25 Z" fill="#000" stroke="none" stroke-width="1"/>
<line x1="127.41" y1="151.05" x2="182.44" y2="89.06" stroke="#2a2a2a" stroke-width="0.68" stroke-dasharray="2.9 1.5" stroke-linecap="butt"/>
<path d="M183.90 87.42 L182.81 90.60 L180.87 88.87 Z" fill="#000" stroke="none" stroke-width="1"/>
<line x1="160.04" y1="159.03" x2="185.48" y2="89.67" stroke="#2a2a2a" stroke-width="0.68" stroke-dasharray="2.9 1.5" stroke-linecap="butt"/>
<path d="M186.24 87.60 L186.39 90.96 L183.95 90.06 Z" fill="#000" stroke="none" stroke-width="1"/>
<path d="M159.29 161.10 L161.57 158.64 L159.13 157.74 Z" fill="#000" stroke="none" stroke-width="1"/>
<line x1="188.95" y1="87.60" x2="194.29" y2="114.73" stroke="#2a2a2a" stroke-width="0.68" stroke-dasharray="2.9 1.5" stroke-linecap="butt"/>
<path d="M194.71 116.89 L192.84 114.10 L195.39 113.59 Z" fill="#000" stroke="none" stroke-width="1"/>
<line x1="137.70" y1="96.79" x2="154.50" y2="97.09" stroke="#2a2a2a" stroke-width="0.68" stroke-dasharray="2.9 1.5" stroke-linecap="butt"/>
<path d="M156.70 97.13 L153.58 98.37 L153.62 95.78 Z" fill="#000" stroke="none" stroke-width="1"/>
<line x1="131.62" y1="120.22" x2="155.17" y2="101.45" stroke="#2a2a2a" stroke-width="0.68" stroke-dasharray="2.9 1.5" stroke-linecap="butt"/>
<path d="M156.89 100.08 L155.27 103.03 L153.65 101.00 Z" fill="#000" stroke="none" stroke-width="1"/>
<path d="M129.90 121.59 L133.13 120.68 L131.51 118.64 Z" fill="#000" stroke="none" stroke-width="1"/>
<line x1="127.79" y1="149.19" x2="156.14" y2="104.13" stroke="#2a2a2a" stroke-width="0.68" stroke-dasharray="2.9 1.5" stroke-linecap="butt"/>
<path d="M157.31 102.27 L156.76 105.58 L154.56 104.20 Z" fill="#000" stroke="none" stroke-width="1"/>
<path d="M126.62 151.05 L129.37 149.12 L127.17 147.73 Z" fill="#000" stroke="none" stroke-width="1"/>
<line x1="157.89" y1="158.90" x2="160.02" y2="108.65" stroke="#2a2a2a" stroke-width="0.68" stroke-dasharray="2.9 1.5" stroke-linecap="butt"/>
<path d="M160.11 106.45 L161.28 109.60 L158.68 109.49 Z" fill="#000" stroke="none" stroke-width="1"/>
<path d="M157.79 161.10 L159.22 158.06 L156.63 157.95 Z" fill="#000" stroke="none" stroke-width="1"/>
<line x1="162.38" y1="129.20" x2="161.17" y2="108.60" stroke="#2a2a2a" stroke-width="0.68" stroke-dasharray="2.9 1.5" stroke-linecap="butt"/>
<path d="M161.04 106.41 L162.52 109.42 L159.92 109.58 Z" fill="#000" stroke="none" stroke-width="1"/>
<line x1="199.21" y1="118.54" x2="225.60" y2="97.63" stroke="#2a2a2a" stroke-width="0.68" stroke-dasharray="2.9 1.5" stroke-linecap="butt"/>
<path d="M227.33 96.27 L225.71 99.21 L224.09 97.17 Z" fill="#000" stroke="none" stroke-width="1"/>
<line x1="199.68" y1="123.52" x2="240.25" y2="144.56" stroke="#2a2a2a" stroke-width="0.68" stroke-dasharray="2.9 1.5" stroke-linecap="butt"/>
<path d="M242.20 145.58 L238.85 145.30 L240.05 143.00 Z" fill="#000" stroke="none" stroke-width="1"/>
<line x1="197.55" y1="125.57" x2="211.51" y2="155.48" stroke="#2a2a2a" stroke-width="0.68" stroke-dasharray="2.9 1.5" stroke-linecap="butt"/>
<path d="M212.44 157.47 L209.95 155.22 L212.31 154.12 Z" fill="#000" stroke="none" stroke-width="1"/>
<line x1="132.10" y1="124.41" x2="188.81" y2="121.72" stroke="#2a2a2a" stroke-width="0.68" stroke-dasharray="2.9 1.5" stroke-linecap="butt"/>
<path d="M191.01 121.62 L187.97 123.06 L187.85 120.47 Z" fill="#000" stroke="none" stroke-width="1"/>
<path d="M129.90 124.52 L133.06 125.67 L132.93 123.07 Z" fill="#000" stroke="none" stroke-width="1"/>
<line x1="129.50" y1="151.89" x2="189.43" y2="124.25" stroke="#2a2a2a" stroke-width="0.68" stroke-dasharray="2.9 1.5" stroke-linecap="butt"/>
<path d="M191.42 123.33 L189.15 125.81 L188.06 123.44 Z" fill="#000" stroke="none" stroke-width="1"/>
<line x1="162.98" y1="159.43" x2="191.17" y2="126.56" stroke="#2a2a2a" stroke-width="0.68" stroke-dasharray="2.9 1.5" stroke-linecap="butt"/>
<path d="M192.61 124.89 L191.57 128.09 L189.60 126.40 Z" fill="#000" stroke="none" stroke-width="1"/>
<path d="M161.55 161.10 L164.55 159.59 L162.58 157.90 Z" fill="#000" stroke="none" stroke-width="1"/>
<line x1="162.02" y1="136.79" x2="158.64" y2="158.93" stroke="#2a2a2a" stroke-width="0.68" stroke-dasharray="2.9 1.5" stroke-linecap="butt"/>
<path d="M158.30 161.10 L157.49 157.84 L160.06 158.23 Z" fill="#000" stroke="none" stroke-width="1"/>
<line x1="153.38" y1="130.91" x2="132.05" y2="126.07" stroke="#2a2a2a" stroke-width="0.68" stroke-dasharray="2.9 1.5" stroke-linecap="butt"/>
<path d="M129.90 125.58 L133.21 125.00 L132.64 127.54 Z" fill="#000" stroke="none" stroke-width="1"/>
<path d="M155.53 131.40 L152.79 129.44 L152.22 131.98 Z" fill="#000" stroke="none" stroke-width="1"/>
<line x1="155.54" y1="136.93" x2="131.42" y2="150.36" stroke="#2a2a2a" stroke-width="0.68" stroke-dasharray="2.9 1.5" stroke-linecap="butt"/>
<path d="M129.50 151.43 L131.58 148.78 L132.84 151.06 Z" fill="#000" stroke="none" stroke-width="1"/>
<path d="M157.46 135.86 L154.12 136.23 L155.39 138.50 Z" fill="#000" stroke="none" stroke-width="1"/>
<line x1="159.71" y1="129.47" x2="136.79" y2="101.45" stroke="#2a2a2a" stroke-width="0.68" stroke-dasharray="2.9 1.5" stroke-linecap="butt"/>
<path d="M135.40 99.75 L138.36 101.33 L136.35 102.97 Z" fill="#000" stroke="none" stroke-width="1"/>
<line x1="163.88" y1="136.75" x2="183.01" y2="192.78" stroke="#2a2a2a" stroke-width="0.68" stroke-linecap="butt"/>
<path d="M183.72 194.86 L181.49 192.35 L183.95 191.51 Z" fill="#000" stroke="none" stroke-width="1"/>
<line x1="161.60" y1="164.88" x2="240.04" y2="148.84" stroke="#2a2a2a" stroke-width="0.68" stroke-dasharray="2.9 1.5" stroke-linecap="butt"/>
<path d="M242.20 148.40 L239.42 150.29 L238.90 147.75 Z" fill="#000" stroke="none" stroke-width="1"/>
<line x1="161.60" y1="165.55" x2="209.30" y2="163.82" stroke="#2a2a2a" stroke-width="0.68" stroke-dasharray="2.9 1.5" stroke-linecap="butt"/>
<path d="M211.50 163.74 L208.45 165.15 L208.36 162.55 Z" fill="#000" stroke="none" stroke-width="1"/>
<line x1="129.50" y1="154.60" x2="209.32" y2="162.97" stroke="#2a2a2a" stroke-width="0.68" stroke-dasharray="2.9 1.5" stroke-linecap="butt"/>
<path d="M211.50 163.20 L208.28 164.17 L208.56 161.59 Z" fill="#000" stroke="none" stroke-width="1"/>
<line x1="161.60" y1="167.88" x2="224.77" y2="202.32" stroke="#2a2a2a" stroke-width="0.68" stroke-dasharray="2.9 1.5" stroke-linecap="butt"/>
<path d="M226.70 203.37 L223.36 203.03 L224.60 200.75 Z" fill="#000" stroke="none" stroke-width="1"/>
<line x1="161.41" y1="170.30" x2="180.58" y2="193.45" stroke="#2a2a2a" stroke-width="0.68" stroke-linecap="butt"/>
<path d="M181.99 195.14 L179.01 193.58 L181.01 191.92 Z" fill="#000" stroke="none" stroke-width="1"/>
<line x1="128.81" y1="157.15" x2="178.82" y2="194.24" stroke="#2a2a2a" stroke-width="0.68" stroke-linecap="butt"/>
<path d="M180.59 195.55 L177.33 194.75 L178.87 192.66 Z" fill="#000" stroke="none" stroke-width="1"/>
<line x1="129.66" y1="129.30" x2="180.72" y2="193.40" stroke="#2a2a2a" stroke-width="0.68" stroke-linecap="butt"/>
<path d="M182.09 195.12 L179.14 193.50 L181.17 191.88 Z" fill="#000" stroke="none" stroke-width="1"/>
<line x1="157.17" y1="170.30" x2="155.44" y2="189.04" stroke="#2a2a2a" stroke-width="0.68" stroke-dasharray="2.9 1.5" stroke-linecap="butt"/>
<path d="M155.24 191.23 L154.23 188.02 L156.82 188.26 Z" fill="#000" stroke="none" stroke-width="1"/>
<line x1="159.92" y1="170.30" x2="190.25" y2="230.44" stroke="#2a2a2a" stroke-width="0.68" stroke-dasharray="2.9 1.5" stroke-linecap="butt"/>
<path d="M191.24 232.40 L188.68 230.22 L191.00 229.05 Z" fill="#000" stroke="none" stroke-width="1"/>
<line x1="157.05" y1="170.30" x2="149.86" y2="229.92" stroke="#2a2a2a" stroke-width="0.68" stroke-dasharray="2.9 1.5" stroke-linecap="butt"/>
<path d="M149.60 232.10 L148.68 228.87 L151.26 229.18 Z" fill="#000" stroke="none" stroke-width="1"/>
<line x1="153.10" y1="209.04" x2="150.01" y2="229.92" stroke="#2a2a2a" stroke-width="0.68" stroke-linecap="butt"/>
<path d="M149.69 232.10 L148.86 228.84 L151.43 229.22 Z" fill="#000" stroke="none" stroke-width="1"/>
<line x1="154.82" y1="209.54" x2="157.21" y2="261.70" stroke="#2a2a2a" stroke-width="0.68" stroke-dasharray="2.9 1.5" stroke-linecap="butt"/>
<path d="M157.31 263.90 L155.87 260.86 L158.47 260.74 Z" fill="#000" stroke="none" stroke-width="1"/>
<line x1="157.96" y1="203.57" x2="187.69" y2="230.91" stroke="#2a2a2a" stroke-width="0.68" stroke-dasharray="2.9 1.5" stroke-linecap="butt"/>
<path d="M189.31 232.40 L186.15 231.26 L187.91 229.34 Z" fill="#000" stroke="none" stroke-width="1"/>
<line x1="161.39" y1="264.45" x2="187.66" y2="240.48" stroke="#2a2a2a" stroke-width="0.68" stroke-linecap="butt"/>
<path d="M189.28 239.00 L187.87 242.05 L186.12 240.13 Z" fill="#000" stroke="none" stroke-width="1"/>
<line x1="103.03" y1="204.31" x2="152.87" y2="262.59" stroke="#2a2a2a" stroke-width="0.68" stroke-dasharray="2.9 1.5" stroke-linecap="butt"/>
<path d="M154.30 264.26 L151.30 262.75 L153.27 261.06 Z" fill="#000" stroke="none" stroke-width="1"/>
<line x1="103.25" y1="202.88" x2="142.74" y2="230.83" stroke="#2a2a2a" stroke-width="0.68" stroke-dasharray="2.9 1.5" stroke-linecap="butt"/>
<path d="M144.54 232.10 L141.26 231.37 L142.76 229.25 Z" fill="#000" stroke="none" stroke-width="1"/>
<line x1="101.78" y1="207.92" x2="112.56" y2="245.58" stroke="#2a2a2a" stroke-width="0.68" stroke-dasharray="2.9 1.5" stroke-linecap="butt"/>
<path d="M113.17 247.70 L111.07 245.08 L113.57 244.36 Z" fill="#000" stroke="none" stroke-width="1"/>
<line x1="96.04" y1="203.56" x2="72.42" y2="225.23" stroke="#2a2a2a" stroke-width="0.68" stroke-dasharray="2.9 1.5" stroke-linecap="butt"/>
<path d="M70.80 226.71 L72.21 223.66 L73.96 225.58 Z" fill="#000" stroke="none" stroke-width="1"/>
<line x1="96.90" y1="206.84" x2="70.68" y2="270.27" stroke="#2a2a2a" stroke-width="0.68" stroke-dasharray="2.9 1.5" stroke-linecap="butt"/>
<path d="M69.84 272.30 L69.83 268.94 L72.23 269.93 Z" fill="#000" stroke="none" stroke-width="1"/>
<line x1="95.91" y1="198.11" x2="73.99" y2="185.09" stroke="#2a2a2a" stroke-width="0.68" stroke-dasharray="2.9 1.5" stroke-linecap="butt"/>
<path d="M72.10 183.96 L75.43 184.43 L74.10 186.66 Z" fill="#000" stroke="none" stroke-width="1"/>
<line x1="96.84" y1="193.91" x2="78.89" y2="152.37" stroke="#2a2a2a" stroke-width="0.68" stroke-dasharray="2.9 1.5" stroke-linecap="butt"/>
<path d="M78.02 150.35 L80.44 152.68 L78.05 153.71 Z" fill="#000" stroke="none" stroke-width="1"/>
<line x1="98.35" y1="191.51" x2="87.74" y2="116.73" stroke="#2a2a2a" stroke-width="0.68" stroke-dasharray="2.9 1.5" stroke-linecap="butt"/>
<path d="M87.43 114.55 L89.16 117.44 L86.58 117.80 Z" fill="#000" stroke="none" stroke-width="1"/>
<line x1="99.82" y1="191.02" x2="100.88" y2="146.60" stroke="#2a2a2a" stroke-width="0.68" stroke-dasharray="2.9 1.5" stroke-linecap="butt"/>
<path d="M100.93 144.40 L102.16 147.53 L99.56 147.47 Z" fill="#000" stroke="none" stroke-width="1"/>
<line x1="103.69" y1="192.78" x2="121.99" y2="159.08" stroke="#2a2a2a" stroke-width="0.68" stroke-dasharray="2.9 1.5" stroke-linecap="butt"/>
<path d="M123.04 157.15 L122.71 160.49 L120.42 159.25 Z" fill="#000" stroke="none" stroke-width="1"/>
<path d="M102.64 194.71 L105.26 192.61 L102.97 191.37 Z" fill="#000" stroke="none" stroke-width="1"/>
<line x1="105.18" y1="196.97" x2="151.71" y2="169.21" stroke="#2a2a2a" stroke-width="0.68" stroke-dasharray="2.9 1.5" stroke-linecap="butt"/>
<path d="M153.60 168.09 L151.60 170.79 L150.27 168.56 Z" fill="#000" stroke="none" stroke-width="1"/>
<path d="M103.29 198.10 L106.62 197.63 L105.29 195.39 Z" fill="#000" stroke="none" stroke-width="1"/>
<line x1="102.07" y1="193.23" x2="123.67" y2="131.38" stroke="#2a2a2a" stroke-width="0.68" stroke-dasharray="2.9 1.5" stroke-linecap="butt"/>
<path d="M124.39 129.30 L124.60 132.66 L122.14 131.80 Z" fill="#000" stroke="none" stroke-width="1"/>
<line x1="103.36" y1="201.72" x2="186.04" y2="233.10" stroke="#2a2a2a" stroke-width="0.68" stroke-dasharray="2.9 1.5" stroke-linecap="butt"/>
<path d="M188.10 233.88 L184.74 233.99 L185.66 231.56 Z" fill="#000" stroke="none" stroke-width="1"/>
<line x1="68.94" y1="189.75" x2="67.55" y2="218.76" stroke="#2a2a2a" stroke-width="0.68" stroke-dasharray="2.9 1.5" stroke-linecap="butt"/>
<path d="M67.44 220.95 L66.29 217.80 L68.89 217.92 Z" fill="#000" stroke="none" stroke-width="1"/>
<line x1="119.90" y1="156.54" x2="74.14" y2="179.84" stroke="#2a2a2a" stroke-width="0.68" stroke-dasharray="2.9 1.5" stroke-linecap="butt"/>
<path d="M72.18 180.83 L74.35 178.27 L75.53 180.59 Z" fill="#000" stroke="none" stroke-width="1"/>
<line x1="153.60" y1="166.45" x2="74.71" y2="181.28" stroke="#2a2a2a" stroke-width="0.68" stroke-dasharray="2.9 1.5" stroke-linecap="butt"/>
<path d="M72.54 181.69 L75.35 179.84 L75.83 182.40 Z" fill="#000" stroke="none" stroke-width="1"/>
<line x1="121.90" y1="184.50" x2="74.94" y2="182.54" stroke="#2a2a2a" stroke-width="0.68" stroke-dasharray="2.9 1.5" stroke-linecap="butt"/>
<path d="M72.74 182.44 L75.89 181.27 L75.78 183.87 Z" fill="#000" stroke="none" stroke-width="1"/>
<line x1="76.06" y1="150.35" x2="70.92" y2="174.62" stroke="#2a2a2a" stroke-width="0.68" stroke-dasharray="2.9 1.5" stroke-linecap="butt"/>
<path d="M70.47 176.77 L69.84 173.47 L72.38 174.01 Z" fill="#000" stroke="none" stroke-width="1"/>
<line x1="71.90" y1="150.23" x2="21.66" y2="180.94" stroke="#2a2a2a" stroke-width="0.68" stroke-dasharray="2.9 1.5" stroke-linecap="butt"/>
<path d="M19.79 182.09 L21.75 179.37 L23.11 181.58 Z" fill="#000" stroke="none" stroke-width="1"/>
<line x1="82.89" y1="114.55" x2="54.54" y2="135.59" stroke="#2a2a2a" stroke-width="0.68" stroke-dasharray="2.9 1.5" stroke-linecap="butt"/>
<path d="M52.77 136.90 L54.49 134.01 L56.04 136.10 Z" fill="#000" stroke="none" stroke-width="1"/>
<line x1="96.20" y1="141.40" x2="55.10" y2="139.64" stroke="#2a2a2a" stroke-width="0.68" stroke-dasharray="2.9 1.5" stroke-linecap="butt"/>
<path d="M52.90 139.55 L56.05 138.38 L55.94 140.98 Z" fill="#000" stroke="none" stroke-width="1"/>
<line x1="119.90" y1="153.16" x2="55.05" y2="140.50" stroke="#2a2a2a" stroke-width="0.68" stroke-dasharray="2.9 1.5" stroke-linecap="butt"/>
<path d="M52.89 140.08 L56.18 139.40 L55.68 141.95 Z" fill="#000" stroke="none" stroke-width="1"/>
<line x1="85.51" y1="116.66" x2="78.19" y2="142.14" stroke="#2a2a2a" stroke-width="0.68" stroke-dasharray="2.9 1.5" stroke-linecap="butt"/>
<path d="M77.58 144.25 L77.19 140.91 L79.68 141.63 Z" fill="#000" stroke="none" stroke-width="1"/>
<path d="M86.12 114.55 L84.02 117.17 L86.51 117.89 Z" fill="#000" stroke="none" stroke-width="1"/>
<line x1="117.72" y1="153.11" x2="83.68" y2="148.29" stroke="#2a2a2a" stroke-width="0.68" stroke-dasharray="2.9 1.5" stroke-linecap="butt"/>
<path d="M81.50 147.98 L84.75 147.13 L84.39 149.70 Z" fill="#000" stroke="none" stroke-width="1"/>
<path d="M119.90 153.42 L117.01 151.70 L116.65 154.27 Z" fill="#000" stroke="none" stroke-width="1"/>
<line x1="151.45" y1="164.30" x2="83.65" y2="148.88" stroke="#2a2a2a" stroke-width="0.68" stroke-dasharray="2.9 1.5" stroke-linecap="butt"/>
<path d="M81.50 148.39 L84.81 147.81 L84.23 150.35 Z" fill="#000" stroke="none" stroke-width="1"/>
<path d="M153.60 164.79 L150.87 162.84 L150.29 165.37 Z" fill="#000" stroke="none" stroke-width="1"/>
<line x1="96.20" y1="142.73" x2="83.64" y2="145.67" stroke="#2a2a2a" stroke-width="0.68" stroke-dasharray="2.9 1.5" stroke-linecap="butt"/>
<path d="M81.50 146.17 L84.22 144.20 L84.81 146.73 Z" fill="#000" stroke="none" stroke-width="1"/>
<line x1="80.78" y1="150.35" x2="120.86" y2="180.33" stroke="#2a2a2a" stroke-width="0.68" stroke-dasharray="2.9 1.5" stroke-linecap="butt"/>
<path d="M122.62 181.65 L119.36 180.83 L120.92 178.75 Z" fill="#000" stroke="none" stroke-width="1"/>
<line x1="91.80" y1="109.95" x2="126.01" y2="98.92" stroke="#2a2a2a" stroke-width="0.68" stroke-dasharray="2.9 1.5" stroke-linecap="butt"/>
<path d="M128.10 98.25 L125.55 100.44 L124.75 97.96 Z" fill="#000" stroke="none" stroke-width="1"/>
<line x1="93.88" y1="113.83" x2="120.02" y2="122.67" stroke="#2a2a2a" stroke-width="0.68" stroke-dasharray="2.9 1.5" stroke-linecap="butt"/>
<path d="M122.10 123.38 L118.75 123.62 L119.58 121.15 Z" fill="#000" stroke="none" stroke-width="1"/>
<path d="M91.80 113.12 L94.32 115.35 L95.15 112.89 Z" fill="#000" stroke="none" stroke-width="1"/>
<line x1="92.72" y1="115.89" x2="151.85" y2="161.29" stroke="#2a2a2a" stroke-width="0.68" stroke-dasharray="2.9 1.5" stroke-linecap="butt"/>
<path d="M153.60 162.63 L150.35 161.77 L151.93 159.71 Z" fill="#000" stroke="none" stroke-width="1"/>
<path d="M90.97 114.55 L92.64 117.47 L94.22 115.41 Z" fill="#000" stroke="none" stroke-width="1"/>
<line x1="89.42" y1="108.45" x2="104.91" y2="88.97" stroke="#2a2a2a" stroke-width="0.68" stroke-dasharray="2.9 1.5" stroke-linecap="butt"/>
<path d="M106.28 87.25 L105.36 90.49 L103.33 88.87 Z" fill="#000" stroke="none" stroke-width="1"/>
<line x1="113.75" y1="86.81" x2="126.15" y2="93.21" stroke="#2a2a2a" stroke-width="0.68" stroke-dasharray="2.9 1.5" stroke-linecap="butt"/>
<path d="M128.10 94.22 L124.75 93.95 L125.94 91.64 Z" fill="#000" stroke="none" stroke-width="1"/>
<line x1="110.00" y1="87.25" x2="123.17" y2="118.08" stroke="#2a2a2a" stroke-width="0.68" stroke-dasharray="2.9 1.5" stroke-linecap="butt"/>
<path d="M124.04 120.10 L121.62 117.76 L124.01 116.74 Z" fill="#000" stroke="none" stroke-width="1"/>
<line x1="109.89" y1="89.39" x2="123.51" y2="148.91" stroke="#2a2a2a" stroke-width="0.68" stroke-dasharray="2.9 1.5" stroke-linecap="butt"/>
<path d="M124.00 151.05 L122.04 148.32 L124.58 147.74 Z" fill="#000" stroke="none" stroke-width="1"/>
<path d="M109.40 87.25 L108.82 90.56 L111.36 89.98 Z" fill="#000" stroke="none" stroke-width="1"/>
<line x1="111.66" y1="89.14" x2="153.71" y2="159.21" stroke="#2a2a2a" stroke-width="0.68" stroke-dasharray="2.9 1.5" stroke-linecap="butt"/>
<path d="M154.84 161.10 L152.13 159.11 L154.36 157.77 Z" fill="#000" stroke="none" stroke-width="1"/>
<path d="M110.53 87.25 L111.01 90.58 L113.24 89.24 Z" fill="#000" stroke="none" stroke-width="1"/>
<line x1="131.62" y1="101.89" x2="127.66" y2="117.96" stroke="#2a2a2a" stroke-width="0.68" stroke-dasharray="2.9 1.5" stroke-linecap="butt"/>
<path d="M127.13 120.10 L126.61 116.78 L129.14 117.40 Z" fill="#000" stroke="none" stroke-width="1"/>
<path d="M132.15 99.75 L130.14 102.45 L132.67 103.07 Z" fill="#000" stroke="none" stroke-width="1"/>
<line x1="132.15" y1="101.93" x2="125.45" y2="148.87" stroke="#2a2a2a" stroke-width="0.68" stroke-dasharray="2.9 1.5" stroke-linecap="butt"/>
<path d="M125.14 151.05 L124.29 147.80 L126.86 148.17 Z" fill="#000" stroke="none" stroke-width="1"/>
<path d="M132.46 99.75 L130.74 102.63 L133.31 103.00 Z" fill="#000" stroke="none" stroke-width="1"/>
<line x1="133.99" y1="99.75" x2="155.21" y2="159.03" stroke="#2a2a2a" stroke-width="0.68" stroke-dasharray="2.9 1.5" stroke-linecap="butt"/>
<path d="M155.95 161.10 L153.68 158.62 L156.13 157.74 Z" fill="#000" stroke="none" stroke-width="1"/>
<line x1="125.70" y1="131.50" x2="124.93" y2="148.85" stroke="#2a2a2a" stroke-width="0.68" stroke-dasharray="2.9 1.5" stroke-linecap="butt"/>
<path d="M124.83 151.05 L123.67 147.90 L126.27 148.01 Z" fill="#000" stroke="none" stroke-width="1"/>
<path d="M125.80 129.30 L124.36 132.34 L126.96 132.45 Z" fill="#000" stroke="none" stroke-width="1"/>
<line x1="130.89" y1="131.04" x2="152.71" y2="159.36" stroke="#2a2a2a" stroke-width="0.68" stroke-dasharray="2.9 1.5" stroke-linecap="butt"/>
<path d="M154.05 161.10 L151.13 159.44 L153.19 157.85 Z" fill="#000" stroke="none" stroke-width="1"/>
<path d="M129.55 129.30 L130.41 132.55 L132.47 130.96 Z" fill="#000" stroke="none" stroke-width="1"/>
<line x1="126.08" y1="131.50" x2="126.64" y2="179.45" stroke="#2a2a2a" stroke-width="0.68" stroke-dasharray="2.9 1.5" stroke-linecap="butt"/>
<path d="M126.66 181.65 L125.33 178.57 L127.93 178.54 Z" fill="#000" stroke="none" stroke-width="1"/>
<path d="M126.05 129.30 L124.79 132.41 L127.39 132.38 Z" fill="#000" stroke="none" stroke-width="1"/>
<line x1="120.28" y1="128.57" x2="106.96" y2="137.57" stroke="#2a2a2a" stroke-width="0.68" stroke-dasharray="2.9 1.5" stroke-linecap="butt"/>
<path d="M105.14 138.80 L106.98 135.99 L108.44 138.14 Z" fill="#000" stroke="none" stroke-width="1"/>
<path d="M122.10 127.34 L118.80 128.00 L120.26 130.15 Z" fill="#000" stroke="none" stroke-width="1"/>
<line x1="131.57" y1="156.52" x2="151.53" y2="163.56" stroke="#2a2a2a" stroke-width="0.68" stroke-dasharray="2.9 1.5" stroke-linecap="butt"/>
<path d="M153.60 164.29 L150.24 164.48 L151.11 162.03 Z" fill="#000" stroke="none" stroke-width="1"/>
<path d="M129.50 155.79 L131.99 158.05 L132.86 155.60 Z" fill="#000" stroke="none" stroke-width="1"/>
<line x1="125.04" y1="159.35" x2="126.36" y2="179.45" stroke="#2a2a2a" stroke-width="0.68" stroke-dasharray="2.9 1.5" stroke-linecap="butt"/>
<path d="M126.50 181.65 L125.00 178.64 L127.60 178.47 Z" fill="#000" stroke="none" stroke-width="1"/>
<path d="M124.90 157.15 L123.80 160.33 L126.40 160.16 Z" fill="#000" stroke="none" stroke-width="1"/>
<line x1="117.95" y1="150.54" x2="107.75" y2="145.16" stroke="#2a2a2a" stroke-width="0.68" stroke-dasharray="2.9 1.5" stroke-linecap="butt"/>
<path d="M105.80 144.13 L109.15 144.43 L107.94 146.73 Z" fill="#000" stroke="none" stroke-width="1"/>
<path d="M119.90 151.57 L117.76 148.97 L116.55 151.27 Z" fill="#000" stroke="none" stroke-width="1"/>
<line x1="133.37" y1="180.60" x2="151.73" y2="169.31" stroke="#2a2a2a" stroke-width="0.68" stroke-dasharray="2.9 1.5" stroke-linecap="butt"/>
<path d="M153.60 168.16 L151.64 170.89 L150.28 168.68 Z" fill="#000" stroke="none" stroke-width="1"/>
<path d="M131.50 181.75 L134.82 181.23 L133.46 179.02 Z" fill="#000" stroke="none" stroke-width="1"/>
<line x1="131.50" y1="185.87" x2="175.88" y2="196.66" stroke="#2a2a2a" stroke-width="0.68" stroke-dasharray="2.9 1.5" stroke-linecap="butt"/>
<path d="M178.02 197.18 L174.70 197.71 L175.32 195.18 Z" fill="#000" stroke="none" stroke-width="1"/>
<line x1="155.30" y1="170.30" x2="117.54" y2="245.73" stroke="#2a2a2a" stroke-width="0.68" stroke-dasharray="2.9 1.5" stroke-linecap="butt"/>
<path d="M116.55 247.70 L116.78 244.35 L119.10 245.51 Z" fill="#000" stroke="none" stroke-width="1"/>
<line x1="134.46" y1="99.75" x2="182.08" y2="192.98" stroke="#2a2a2a" stroke-width="0.68" stroke-dasharray="2.9 1.5" stroke-linecap="butt"/>
<path d="M183.08 194.94 L180.51 192.77 L182.83 191.59 Z" fill="#000" stroke="none" stroke-width="1"/>
<line x1="157.89" y1="103.96" x2="128.67" y2="179.60" stroke="#2a2a2a" stroke-width="0.68" stroke-dasharray="2.9 1.5" stroke-linecap="butt"/>
<path d="M127.88 181.65 L127.78 178.29 L130.21 179.23 Z" fill="#000" stroke="none" stroke-width="1"/>
<line x1="160.10" y1="136.60" x2="130.07" y2="179.84" stroke="#2a2a2a" stroke-width="0.68" stroke-dasharray="2.9 1.5" stroke-linecap="butt"/>
<path d="M128.82 181.65 L129.52 178.36 L131.65 179.85 Z" fill="#000" stroke="none" stroke-width="1"/>
<line x1="155.10" y1="134.05" x2="107.98" y2="140.63" stroke="#2a2a2a" stroke-width="0.68" stroke-dasharray="2.9 1.5" stroke-linecap="butt"/>
<path d="M105.80 140.93 L108.69 139.21 L109.05 141.79 Z" fill="#000" stroke="none" stroke-width="1"/>
<line x1="192.21" y1="124.51" x2="131.64" y2="180.16" stroke="#2a2a2a" stroke-width="0.68" stroke-dasharray="2.9 1.5" stroke-linecap="butt"/>
<path d="M130.02 181.65 L131.42 178.60 L133.18 180.51 Z" fill="#000" stroke="none" stroke-width="1"/>
<line x1="152.79" y1="68.80" x2="126.39" y2="148.96" stroke="#2a2a2a" stroke-width="0.68" stroke-dasharray="2.9 1.5" stroke-linecap="butt"/>
<path d="M125.70 151.05 L125.44 147.70 L127.91 148.51 Z" fill="#000" stroke="none" stroke-width="1"/>
<line x1="127.73" y1="129.30" x2="151.05" y2="191.39" stroke="#2a2a2a" stroke-width="0.68" stroke-dasharray="2.9 1.5" stroke-linecap="butt"/>
<path d="M151.83 193.45 L149.52 191.01 L151.95 190.09 Z" fill="#000" stroke="none" stroke-width="1"/>
<line x1="159.96" y1="106.40" x2="155.07" y2="188.90" stroke="#2a2a2a" stroke-width="0.68" stroke-dasharray="2.9 1.5" stroke-linecap="butt"/>
<path d="M154.94 191.10 L153.83 187.92 L156.43 188.08 Z" fill="#000" stroke="none" stroke-width="1"/>
<line x1="129.90" y1="126.40" x2="209.54" y2="161.09" stroke="#2a2a2a" stroke-width="0.68" stroke-dasharray="2.9 1.5" stroke-linecap="butt"/>
<path d="M211.56 161.97 L208.20 161.92 L209.24 159.54 Z" fill="#000" stroke="none" stroke-width="1"/>
<line x1="155.22" y1="134.23" x2="83.67" y2="146.14" stroke="#2a2a2a" stroke-width="0.68" stroke-dasharray="2.9 1.5" stroke-linecap="butt"/>
<path d="M81.50 146.50 L84.34 144.71 L84.77 147.27 Z" fill="#000" stroke="none" stroke-width="1"/>
<line x1="185.57" y1="87.60" x2="165.46" y2="127.35" stroke="#2a2a2a" stroke-width="0.68" stroke-dasharray="2.9 1.5" stroke-linecap="butt"/>
<path d="M164.47 129.31 L164.71 125.96 L167.03 127.13 Z" fill="#000" stroke="none" stroke-width="1"/>
<line x1="154.58" y1="161.10" x2="131.24" y2="130.79" stroke="#2a2a2a" stroke-width="0.68" stroke-dasharray="2.9 1.5" stroke-linecap="butt"/>
<path d="M129.90 129.04 L132.82 130.71 L130.76 132.29 Z" fill="#000" stroke="none" stroke-width="1"/>
<line x1="125.62" y1="157.15" x2="147.57" y2="229.99" stroke="#2a2a2a" stroke-width="0.68" stroke-dasharray="2.9 1.5" stroke-linecap="butt"/>
<path d="M148.21 232.10 L146.07 229.51 L148.56 228.76 Z" fill="#000" stroke="none" stroke-width="1"/>
<line x1="159.60" y1="106.24" x2="157.62" y2="158.90" stroke="#2a2a2a" stroke-width="0.68" stroke-dasharray="2.9 1.5" stroke-linecap="butt"/>
<path d="M157.53 161.10 L156.35 157.95 L158.95 158.05 Z" fill="#000" stroke="none" stroke-width="1"/>
<circle cx="53.40" cy="80.70" r="4.4" fill="none" stroke="#2a2a2a" stroke-width="0.7" stroke-dasharray="2.4 1.3"/>
<circle cx="196.00" cy="114.20" r="4.6" fill="none" stroke="#2a2a2a" stroke-width="0.7" stroke-dasharray="2.4 1.3"/>
<circle cx="187.50" cy="191.30" r="4.2" fill="none" stroke="#2a2a2a" stroke-width="0.7" stroke-dasharray="2.4 1.3"/>
<path d="M124.05 6.95 L128.75 6.95 L130.15 12.45 L130.15 14.45 L122.65 14.45 L122.65 12.45 Z" fill="#fff" stroke="#8a8a8a" stroke-width="0.5"/>
<text x="126.40" y="12.15" font-size="4.0" text-anchor="middle" fill="#000" stroke="#000" stroke-width="0.12">LBP</text>
<ellipse cx="127.00" cy="44.00" rx="7.5" ry="3.5" fill="#f9d4d4" stroke="#c98a8a" stroke-width="0.5"/>
<text x="127.00" y="45.45" font-size="4.0" text-anchor="middle" fill="#000" stroke="#000" stroke-width="0.12">STAT1</text>
<ellipse cx="88.00" cy="51.40" rx="3.5" ry="9.0" fill="#fff" stroke="#8a8a8a" stroke-width="0.5"/>
<text x="88.00" y="52.85" font-size="4.0" text-anchor="middle" fill="#000" stroke="#000" stroke-width="0.12">CD14</text>
<path d="M169.70 27.20 L176.70 31.70 L169.70 36.20 L162.70 31.70 Z" fill="#fff" stroke="#8a8a8a" stroke-width="0.5"/>
<text x="169.70" y="33.15" font-size="4.0" text-anchor="middle" fill="#000" stroke="#000" stroke-width="0.12">MMP9</text>
<rect x="150.70" y="59.90" width="7.20" height="8.60" fill="#e12a12" stroke="#b01c08" stroke-width="0.5"/>
<text x="154.30" y="65.65" font-size="4.0" text-anchor="middle" fill="#000" stroke="#000" stroke-width="0.12">CXCL10</text>
<ellipse cx="53.40" cy="87.30" rx="3.8" ry="3.8" fill="#7ddc2c" stroke="#5aa81c" stroke-width="0.5"/>
<text x="53.40" y="88.75" font-size="4.0" text-anchor="middle" fill="#000" stroke="#000" stroke-width="0.12">RETN</text>
<rect x="103.95" y="81.45" width="9.50" height="5.50" fill="#fff" stroke="#8a8a8a" stroke-width="0.5"/>
<text x="108.70" y="85.65" font-size="4.0" text-anchor="middle" fill="#000" stroke="#000" stroke-width="0.12">TGFB1</text>
<rect x="184.20" y="78.30" width="7.60" height="9.00" fill="#f9d4d4" stroke="#c98a8a" stroke-width="0.5"/>
<text x="188.00" y="84.25" font-size="4.0" text-anchor="middle" fill="#000" stroke="#000" stroke-width="0.12">IL32</text>
<ellipse cx="160.50" cy="97.20" rx="3.5" ry="9.0" fill="#f9d4d4" stroke="#c98a8a" stroke-width="0.5"/>
<text x="160.50" y="98.65" font-size="4.0" text-anchor="middle" fill="#000" stroke="#000" stroke-width="0.12">CD40</text>
<ellipse cx="231.20" cy="93.20" rx="3.8" ry="9.0" fill="#f9d4d4" stroke="#c98a8a" stroke-width="0.5"/>
<text x="231.20" y="94.65" font-size="4.0" text-anchor="middle" fill="#000" stroke="#000" stroke-width="0.12">FCGR1A</text>
<rect x="128.40" y="93.95" width="9.00" height="5.50" fill="#fff" stroke="#8a8a8a" stroke-width="0.5"/>
<text x="132.90" y="98.15" font-size="4.0" text-anchor="middle" fill="#000" stroke="#000" stroke-width="0.12">IL1B</text>
<rect x="82.50" y="108.75" width="9.00" height="5.50" fill="#fff" stroke="#8a8a8a" stroke-width="0.5"/>
<text x="87.00" y="112.95" font-size="4.0" text-anchor="middle" fill="#000" stroke="#000" stroke-width="0.12">IL1A</text>
<ellipse cx="195.60" cy="121.40" rx="4.3" ry="4.3" fill="#fff" stroke="#8a8a8a" stroke-width="0.5"/>
<text x="195.60" y="122.85" font-size="4.0" text-anchor="middle" fill="#000" stroke="#000" stroke-width="0.12">S100A9</text>
<rect x="122.40" y="120.40" width="7.20" height="8.60" fill="#f9d4d4" stroke="#c98a8a" stroke-width="0.5"/>
<text x="126.00" y="126.15" font-size="4.0" text-anchor="middle" fill="#000" stroke="#000" stroke-width="0.12">IFNG</text>
<ellipse cx="162.60" cy="133.00" rx="7.5" ry="3.5" fill="#fff" stroke="#8a8a8a" stroke-width="0.5"/>
<text x="162.60" y="134.45" font-size="4.0" text-anchor="middle" fill="#000" stroke="#000" stroke-width="0.12">RELA</text>
<text x="101.00" y="136.45" font-size="4.0" text-anchor="middle" fill="#000" stroke="#000" stroke-width="0.12">MIF</text>
<rect x="96.50" y="139.10" width="9.00" height="5.00" fill="#fff" stroke="#8a8a8a" stroke-width="0.5"/>
<text x="101.00" y="143.05" font-size="4.0" text-anchor="middle" fill="#000" stroke="#000" stroke-width="0.12">CCL2</text>
<ellipse cx="49.40" cy="139.40" rx="3.2" ry="9.0" fill="#f9d4d4" stroke="#c98a8a" stroke-width="0.5"/>
<text x="49.40" y="140.85" font-size="4.0" text-anchor="middle" fill="#000" stroke="#000" stroke-width="0.12">LILRA2</text>
<rect x="72.20" y="144.55" width="9.00" height="5.50" fill="#fff" stroke="#8a8a8a" stroke-width="0.5"/>
<text x="76.70" y="148.75" font-size="4.0" text-anchor="middle" fill="#000" stroke="#000" stroke-width="0.12">CSF2</text>
<rect x="242.50" y="143.50" width="7.20" height="8.20" fill="#e12a12" stroke="#b01c08" stroke-width="0.5"/>
<text x="246.10" y="149.05" font-size="4.0" text-anchor="middle" fill="#000" stroke="#000" stroke-width="0.12">CXCL9</text>
<rect x="120.20" y="151.35" width="9.00" height="5.50" fill="#fff" stroke="#8a8a8a" stroke-width="0.5"/>
<text x="124.70" y="155.55" font-size="4.0" text-anchor="middle" fill="#000" stroke="#000" stroke-width="0.12">IL6</text>
<rect x="153.90" y="161.40" width="7.40" height="8.60" fill="#f0604e" stroke="#c03a2a" stroke-width="0.5"/>
<text x="157.60" y="167.15" font-size="4.0" text-anchor="middle" fill="#000" stroke="#000" stroke-width="0.12">TNF</text>
<ellipse cx="215.30" cy="163.60" rx="3.5" ry="9.0" fill="#fff" stroke="#8a8a8a" stroke-width="0.5"/>
<text x="215.30" y="165.05" font-size="4.0" text-anchor="middle" fill="#000" stroke="#000" stroke-width="0.12">CD80</text>
<path d="M69.30 174.30 L72.50 182.30 L69.30 190.30 L66.10 182.30 Z" fill="#f9d4d4" stroke="#c98a8a" stroke-width="0.5"/>
<text x="69.30" y="183.75" font-size="4.0" text-anchor="middle" fill="#000" stroke="#000" stroke-width="0.12">CD274</text>
<ellipse cx="14.70" cy="185.20" rx="7.5" ry="3.8" fill="#f9d4d4" stroke="#c98a8a" stroke-width="0.5"/>
<text x="14.70" y="186.65" font-size="4.0" text-anchor="middle" fill="#000" stroke="#000" stroke-width="0.12">IRF5</text>
<rect x="122.20" y="181.95" width="9.00" height="5.50" fill="#fff" stroke="#8a8a8a" stroke-width="0.5"/>
<text x="126.70" y="186.15" font-size="4.0" text-anchor="middle" fill="#000" stroke="#000" stroke-width="0.12">JAK2</text>
<ellipse cx="99.60" cy="200.30" rx="3.5" ry="9.0" fill="#fff" stroke="#8a8a8a" stroke-width="0.5"/>
<text x="99.60" y="201.75" font-size="4.0" text-anchor="middle" fill="#000" stroke="#000" stroke-width="0.12">TREM1</text>
<ellipse cx="154.40" cy="200.30" rx="3.5" ry="9.0" fill="#fff" stroke="#8a8a8a" stroke-width="0.5"/>
<text x="154.40" y="201.75" font-size="4.0" text-anchor="middle" fill="#000" stroke="#000" stroke-width="0.12">LTA</text>
<ellipse cx="185.10" cy="198.90" rx="7.5" ry="3.8" fill="#fff" stroke="#8a8a8a" stroke-width="0.5"/>
<text x="185.10" y="200.35" font-size="4.0" text-anchor="middle" fill="#000" stroke="#000" stroke-width="0.12">STAT3</text>
<rect x="227.00" y="201.20" width="7.20" height="8.60" fill="#f9d4d4" stroke="#c98a8a" stroke-width="0.5"/>
<text x="230.60" y="206.95" font-size="4.0" text-anchor="middle" fill="#000" stroke="#000" stroke-width="0.12">TNFSF10</text>
<ellipse cx="67.00" cy="230.20" rx="3.8" ry="9.0" fill="#fff" stroke="#8a8a8a" stroke-width="0.5"/>
<text x="67.00" y="231.65" font-size="4.0" text-anchor="middle" fill="#000" stroke="#000" stroke-width="0.12">TLR8</text>
<rect x="144.70" y="232.40" width="9.00" height="6.00" fill="#fff" stroke="#8a8a8a" stroke-width="0.5"/>
<text x="149.20" y="236.85" font-size="4.0" text-anchor="middle" fill="#000" stroke="#000" stroke-width="0.12">IL23A</text>
<rect x="188.40" y="232.70" width="9.00" height="6.00" fill="#fff" stroke="#8a8a8a" stroke-width="0.5"/>
<text x="192.90" y="237.15" font-size="4.0" text-anchor="middle" fill="#000" stroke="#000" stroke-width="0.12">IL12A</text>
<rect x="110.40" y="248.00" width="8.00" height="8.00" fill="#fff" stroke="#8a8a8a" stroke-width="0.5" rx="1.6"/>
<text x="114.40" y="253.45" font-size="4.0" text-anchor="middle" fill="#000" stroke="#000" stroke-width="0.12">SPP1</text>
<rect x="62.30" y="272.60" width="7.40" height="18.00" fill="#f9d4d4" stroke="#c98a8a" stroke-width="0.5"/>
<text x="66.00" y="283.05" font-size="4.0" text-anchor="middle" fill="#000" stroke="#000" stroke-width="0.12">FFAR2</text>
<ellipse cx="157.50" cy="268.00" rx="7.5" ry="3.8" fill="#f9d4d4" stroke="#c98a8a" stroke-width="0.5"/>
<text x="157.50" y="269.45" font-size="4.0" text-anchor="middle" fill="#000" stroke="#000" stroke-width="0.12">IRF1</text>
</g>
<rect x="0.55" y="0.55" width="518.9" height="675.9" fill="none" stroke="#000" stroke-width="1.1"/>
</svg>
</body>
</html>
